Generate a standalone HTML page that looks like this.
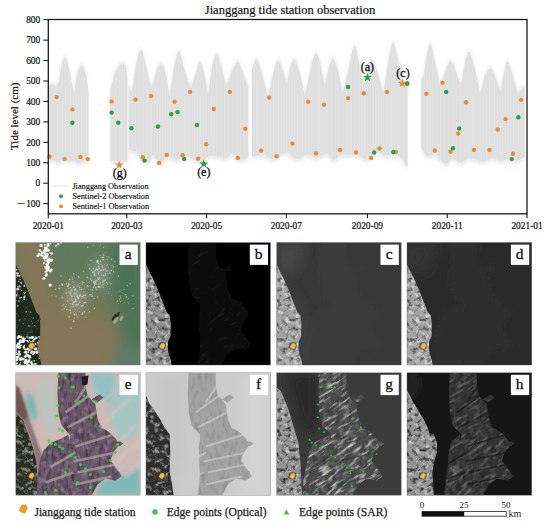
<!DOCTYPE html>
<html><head><meta charset="utf-8"><style>
html,body{margin:0;padding:0;background:#fff;width:550px;height:527px;overflow:hidden}
svg text{font-family:"Liberation Serif",serif}
</style></head><body>
<svg width="550" height="527" viewBox="0 0 550 527" style="display:block">
<defs>
<filter id="pb" x="0" y="0" width="100%" height="100%"><feGaussianBlur stdDeviation="0.45"/></filter><filter id="soft" x="-5%" y="-5%" width="110%" height="110%"><feGaussianBlur stdDeviation="0.6"/></filter><pattern id="stri" width="2.7" height="10" patternUnits="userSpaceOnUse"><rect x="0" y="0" width="0.9" height="10" fill="#e6e6e6" opacity="0.55"/></pattern><filter id="soft2" x="-5%" y="-5%" width="110%" height="110%"><feGaussianBlur stdDeviation="1.5"/></filter>

<filter id="b1" x="-20%" y="-20%" width="140%" height="140%"><feGaussianBlur stdDeviation="1"/></filter>
<filter id="b2" x="-20%" y="-20%" width="140%" height="140%"><feGaussianBlur stdDeviation="2.5"/></filter>
<filter id="b5" x="-30%" y="-30%" width="160%" height="160%"><feGaussianBlur stdDeviation="6"/></filter>
<filter id="b05" x="-20%" y="-20%" width="140%" height="140%"><feGaussianBlur stdDeviation="0.5"/></filter>

<clipPath id="cSand"><polygon points="43.0,-1.0 70.0,-1.0 70.0,12.0 72.0,23.0 80.0,32.0 82.0,46.0 86.0,56.0 90.0,60.0 80.0,63.0 66.0,64.0 64.0,72.0 66.0,85.0 62.0,100.0 64.0,112.0 66.0,123.5 52.0,123.5 54.0,105.0 55.0,90.0 53.0,75.0 55.0,63.0 46.0,53.0 43.0,40.0 42.0,20.0"/><polygon points="55.0,60.0 88.0,56.0 94.0,60.0 100.0,66.0 104.0,72.0 98.0,80.0 95.0,88.0 100.0,95.0 104.0,100.0 106.0,104.0 100.0,108.0 90.0,106.0 82.0,112.0 76.0,123.5 55.0,123.5 54.0,100.0 53.0,75.0"/><polygon points="76.0,27.0 84.0,22.0 88.0,25.0 82.0,30.0"/><polygon points="53.0,62.0 55.0,75.0 54.0,90.0 54.0,105.0 52.0,123.5 26.0,123.5 27.0,108.0 30.0,92.0 33.0,78.0 38.0,70.0 46.0,66.0"/></clipPath><clipPath id="cSandH"><polygon points="43.0,-1.0 70.0,-1.0 70.0,12.0 72.0,23.0 80.0,32.0 82.0,46.0 86.0,56.0 90.0,60.0 80.0,63.0 66.0,64.0 64.0,72.0 66.0,85.0 62.0,100.0 64.0,112.0 66.0,123.5 52.0,123.5 54.0,105.0 55.0,90.0 53.0,75.0 55.0,63.0 46.0,53.0 43.0,40.0 42.0,20.0"/><polygon points="55.0,60.0 88.0,56.0 94.0,60.0 100.0,66.0 104.0,72.0 98.0,80.0 95.0,88.0 100.0,95.0 104.0,100.0 106.0,104.0 100.0,108.0 90.0,106.0 82.0,112.0 76.0,123.5 55.0,123.5 54.0,100.0 53.0,75.0"/><polygon points="76.0,27.0 84.0,22.0 88.0,25.0 82.0,30.0"/><polygon points="53.0,62.0 55.0,75.0 54.0,90.0 54.0,105.0 52.0,123.5 37.0,123.5 39.0,108.0 41.0,92.0 42.0,80.0 44.0,70.0 48.0,66.0"/></clipPath><clipPath id="cLandG"><polygon points="0.0,15.0 4.3,18.4 11.4,34.9 18.4,58.4 22.0,70.2 24.3,93.7 25.5,123.5 0.0,123.5"/></clipPath><clipPath id="cSandE"><polygon points="43.0,-1.0 70.0,-1.0 70.0,12.0 72.0,23.0 80.0,32.0 82.0,46.0 86.0,56.0 90.0,60.0 80.0,63.0 66.0,64.0 64.0,72.0 66.0,85.0 62.0,100.0 64.0,112.0 66.0,123.5 52.0,123.5 54.0,105.0 55.0,90.0 53.0,75.0 55.0,63.0 46.0,53.0 43.0,40.0 42.0,20.0"/><polygon points="55.0,60.0 88.0,56.0 94.0,60.0 100.0,66.0 104.0,72.0 98.0,80.0 95.0,88.0 100.0,95.0 104.0,100.0 106.0,104.0 100.0,108.0 90.0,106.0 82.0,112.0 76.0,123.5 55.0,123.5 54.0,100.0 53.0,75.0"/><polygon points="76.0,27.0 84.0,22.0 88.0,25.0 82.0,30.0"/><polygon points="53.0,62.0 55.0,75.0 54.0,90.0 54.0,105.0 52.0,123.5 22.0,123.5 22.0,105.0 24.0,90.0 28.0,78.0 36.0,70.0 46.0,66.0"/></clipPath><clipPath id="cSandF"><polygon points="43.0,-1.0 70.0,-1.0 70.0,12.0 72.0,23.0 80.0,32.0 82.0,46.0 86.0,56.0 90.0,60.0 80.0,63.0 66.0,64.0 64.0,72.0 66.0,85.0 62.0,100.0 64.0,112.0 66.0,123.5 52.0,123.5 54.0,105.0 55.0,90.0 53.0,75.0 55.0,63.0 46.0,53.0 43.0,40.0 42.0,20.0"/><polygon points="55.0,60.0 88.0,56.0 94.0,60.0 100.0,66.0 104.0,72.0 98.0,80.0 95.0,88.0 100.0,95.0 104.0,100.0 106.0,104.0 100.0,108.0 90.0,106.0 82.0,112.0 76.0,123.5 55.0,123.5 54.0,100.0 53.0,75.0"/><polygon points="76.0,27.0 84.0,22.0 88.0,25.0 82.0,30.0"/></clipPath>
<clipPath id="cLandEF"><polygon points="0.0,40.0 4.0,44.0 8.0,48.0 12.7,61.0 17.4,75.0 21.0,89.0 22.0,105.0 22.0,123.5 0.0,123.5"/></clipPath>
<clipPath id="cLandF"><polygon points="0.0,22.0 3.0,30.0 8.7,38.0 14.6,47.0 17.0,52.0 21.0,58.0 24.0,62.0 24.5,80.0 24.0,100.0 26.0,110.0 28.0,123.5 0.0,123.5"/></clipPath>
<clipPath id="cLandB"><polygon points="0.0,17.0 6.0,29.0 12.0,39.0 16.8,47.0 20.4,54.0 22.7,61.0 27.0,62.0 30.0,70.0 30.3,79.0 27.0,90.0 25.5,100.0 26.0,110.0 27.0,123.5 0.0,123.5"/></clipPath>
<clipPath id="cLandT"><polygon points="0.0,22.0 3.0,28.0 7.0,36.0 12.0,47.0 17.0,60.0 21.0,70.0 24.0,73.0 24.8,80.0 24.8,94.0 22.4,99.0 22.0,106.0 23.0,112.0 25.0,118.0 26.0,123.5 0.0,123.0"/></clipPath>
<filter id="nz1" x="0" y="0" width="100%" height="100%"><feTurbulence type="fractalNoise" baseFrequency="0.18" numOctaves="2" seed="3"/><feColorMatrix type="matrix" values="0 0 0 0 1  0 0 0 0 1  0 0 0 0 1  2.2 0 0 0 -1.0"/></filter>
<filter id="nz2" x="0" y="0" width="100%" height="100%"><feTurbulence type="fractalNoise" baseFrequency="0.3 0.1" numOctaves="2" seed="7"/><feColorMatrix type="matrix" values="0 0 0 0 0  0 0 0 0 0  0 0 0 0 0  2.5 0 0 0 -1.2"/></filter>
<filter id="nzL" x="0" y="0" width="100%" height="100%"><feTurbulence type="fractalNoise" baseFrequency="0.22" numOctaves="3" seed="11"/><feColorMatrix type="matrix" values="0 0 0 0 1  0 0 0 0 1  0 0 0 0 1  3 0 0 0 -1.4"/></filter>
<filter id="nzD" x="0" y="0" width="100%" height="100%"><feTurbulence type="fractalNoise" baseFrequency="0.2" numOctaves="3" seed="5"/><feColorMatrix type="matrix" values="0 0 0 0 0  0 0 0 0 0  0 0 0 0 0  3 0 0 0 -1.5"/></filter>
<filter id="nzS" x="0" y="0" width="100%" height="100%"><feTurbulence type="fractalNoise" baseFrequency="0.08 0.35" numOctaves="2" seed="2"/><feColorMatrix type="matrix" values="0 0 0 0 1  0 0 0 0 1  0 0 0 0 1  3 0 0 0 -1.5"/></filter>

</defs>

<text x="290" y="13.8" font-size="12.5" text-anchor="middle" fill="#111" stroke="#111" stroke-width="0.2">Jianggang tide station observation</text>
<g fill="#ebebeb" filter="url(#soft2)"><path d="M48.6,83.0 Q48.6,83.0 48.6,83.0 L50.6,81.8 Q52.0,81.0 53.6,82.4 L55.8,84.3 Q56.0,84.5 56.2,84.2 L58.1,81.1 Q58.8,80.0 59.5,75.2 L61.0,65.8 Q61.7,61.0 62.5,58.9 L63.7,55.8 Q65.1,52.4 66.4,56.4 L67.5,60.0 Q68.3,62.5 69.2,67.2 L71.0,76.8 Q71.9,81.5 72.5,83.8 L74.0,90.2 Q74.1,90.8 74.3,89.5 L76.3,75.0 Q77.0,69.8 78.3,67.6 L80.1,64.6 Q82.1,61.1 83.9,65.7 L85.4,69.8 Q86.5,72.7 87.0,77.0 L88.5,90.0 Q88.5,90.0 88.5,90.0 L88.5,163.5 Q88.5,163.5 88.5,163.5 L86.3,163.3 Q85.7,163.2 84.3,163.9 L79.9,165.8 Q78.5,166.5 77.6,165.9 L74.9,164.1 Q74.0,163.5 73.1,163.7 L70.6,164.5 Q69.7,164.7 68.5,164.1 L65.1,162.4 Q63.9,161.8 62.7,162.7 L59.2,165.6 Q58.0,166.5 57.1,165.8 L54.6,163.9 Q53.7,163.2 52.7,163.3 L48.6,163.5 Q48.6,163.5 48.6,163.5Z"/>
<path d="M110.3,92.0 Q110.3,92.0 110.3,92.0 L110.5,87.3 Q110.5,85.8 111.6,81.8 L113.7,73.8 Q114.8,69.8 116.2,67.6 L118.3,64.6 Q120.6,61.1 122.6,61.3 L124.3,61.4 Q125.5,61.5 126.0,65.4 L127.3,77.0 Q127.3,77.0 127.3,77.0 L127.3,164.0 Q127.3,164.0 127.3,164.0 L119.9,164.4 Q118.0,164.5 116.5,164.4 L110.3,164.0 Q110.3,164.0 110.3,164.0Z"/>
<path d="M128.8,82.0 Q128.8,82.0 128.8,82.0 L131.4,90.3 Q131.6,90.8 131.9,89.0 L134.9,68.5 Q136.0,61.1 137.3,56.7 L139.1,50.6 Q141.1,43.6 142.9,50.6 L144.4,56.7 Q145.5,61.1 146.6,65.8 L148.7,75.3 Q149.8,80.0 150.4,81.2 L151.9,84.7 Q152.0,85.0 152.3,83.9 L155.3,71.4 Q156.4,66.9 157.7,65.1 L159.5,62.5 Q161.5,59.6 163.2,63.7 L164.7,67.2 Q165.8,69.8 166.7,75.8 L169.3,92.3 Q169.5,93.7 169.8,91.7 L173.2,69.2 Q174.5,61.1 175.6,56.9 L177.1,51.1 Q178.9,44.4 180.9,52.8 L182.7,60.2 Q184.0,65.5 185.1,69.1 L187.3,76.4 Q188.4,80.0 189.1,81.2 L191.1,84.7 Q191.3,85.0 191.6,84.2 L194.5,74.7 Q195.6,71.3 196.7,67.5 L198.3,62.1 Q200.1,56.0 201.9,62.7 L203.4,68.5 Q204.5,72.7 205.4,77.6 L207.9,91.0 Q208.1,92.2 208.4,90.3 L211.4,68.9 Q212.5,61.1 213.6,57.8 L215.1,53.2 Q216.8,48.0 218.8,55.0 L220.6,61.1 Q221.9,65.5 223.0,70.0 L226.0,82.4 Q226.3,83.5 226.6,82.7 L230.1,73.2 Q231.4,69.8 233.0,66.5 L235.3,61.9 Q237.9,56.7 239.9,61.9 L241.7,66.5 Q243.0,69.8 243.9,72.3 L245.7,77.5 Q246.6,80.0 247.0,80.8 L248.3,83.0 Q248.3,83.0 248.3,83.0 L248.3,161.5 Q248.3,161.5 248.3,161.5 L246.5,161.8 Q246.0,161.9 244.3,162.3 L239.2,163.6 Q237.5,164.0 236.6,162.3 L233.9,157.0 Q233.0,155.3 232.1,156.3 L229.6,159.5 Q228.7,160.5 228.0,160.8 L225.7,161.6 Q225.0,161.9 223.7,161.5 L219.8,160.1 Q218.5,159.7 216.7,159.5 L211.5,158.7 Q209.7,158.5 208.0,160.0 L202.7,164.7 Q201.0,166.2 199.3,165.3 L194.0,162.8 Q192.3,161.9 191.0,161.2 L187.0,159.2 Q185.7,158.5 184.0,159.6 L178.7,162.9 Q177.0,164.0 175.3,163.1 L170.0,160.6 Q168.3,159.7 166.5,161.3 L161.3,165.9 Q159.5,167.5 158.2,165.5 L154.3,159.5 Q153.0,157.5 152.1,159.2 L149.5,164.5 Q148.6,166.2 146.9,165.8 L141.7,164.4 Q140.0,164.0 139.5,162.3 L138.2,157.0 Q137.7,155.3 136.8,155.1 L133.9,154.4 Q133.0,154.2 132.2,154.1 L128.8,153.5 Q128.8,153.5 128.8,153.5Z"/>
<path d="M252.0,67.0 Q252.0,67.0 252.0,67.0 L254.5,59.1 Q256.1,53.8 257.9,58.5 L259.4,62.6 Q260.5,65.5 261.6,69.5 L263.7,77.5 Q264.8,81.5 265.5,84.5 L267.5,93.0 Q267.7,93.7 268.0,92.6 L271.0,80.1 Q272.1,75.6 273.6,70.1 L275.6,62.5 Q278.0,53.8 280.0,59.6 L281.8,64.8 Q283.1,68.4 284.0,71.8 L286.5,81.2 Q286.7,82.0 286.9,80.8 L289.5,67.4 Q290.4,62.5 291.5,60.5 L293.0,57.7 Q294.7,54.5 296.7,60.6 L298.5,66.0 Q299.8,69.8 301.1,75.8 L304.6,92.3 Q304.9,93.7 305.3,91.7 L309.9,69.2 Q311.5,61.1 312.8,57.4 L314.5,52.3 Q316.5,46.5 318.5,54.7 L320.3,61.8 Q321.6,66.9 322.3,71.1 L324.3,82.5 Q324.5,83.5 324.8,82.3 L327.8,68.9 Q328.9,64.0 330.0,61.5 L331.5,57.9 Q333.3,53.8 335.3,59.6 L337.1,64.8 Q338.4,68.4 339.5,74.0 L342.4,89.5 Q342.7,90.8 343.1,89.3 L347.2,71.9 Q348.7,65.6 350.1,58.7 L352.2,49.0 Q354.5,38.0 356.9,49.0 L358.9,58.7 Q360.4,65.6 361.3,70.1 L363.8,82.6 Q364.0,83.7 364.2,82.6 L367.0,69.7 Q368.0,65.0 369.0,62.2 L370.4,58.4 Q372.0,54.0 374.6,61.6 L376.9,68.2 Q378.5,72.9 379.8,77.3 L383.3,89.4 Q383.6,90.5 383.9,88.6 L386.9,66.4 Q388.0,58.4 389.3,52.8 L391.1,44.8 Q393.1,35.8 395.1,44.8 L396.9,52.8 Q398.2,58.4 399.3,62.8 L401.4,71.5 Q402.5,75.8 403.4,77.1 L405.1,79.7 Q406.0,81.0 406.4,81.5 L407.5,83.0 Q407.5,83.0 407.5,83.0 L407.5,169.5 Q407.5,169.5 407.5,169.5 L406.2,169.5 Q405.9,169.5 405.2,168.0 L403.3,163.4 Q402.6,161.9 400.9,161.0 L395.6,158.4 Q393.9,157.5 392.2,157.9 L386.9,159.3 Q385.2,159.7 383.5,158.8 L378.2,156.2 Q376.5,155.3 374.7,157.0 L369.5,162.3 Q367.7,164.0 365.5,162.7 L359.0,158.8 Q356.8,157.5 355.0,157.7 L349.8,158.3 Q348.0,158.5 346.7,158.3 L342.8,157.7 Q341.5,157.5 339.9,158.8 L335.1,162.7 Q333.5,164.0 332.2,162.5 L328.2,157.9 Q326.9,156.4 324.7,157.5 L318.2,160.8 Q316.0,161.9 314.3,161.0 L309.0,158.4 Q307.3,157.5 305.1,158.6 L298.6,161.9 Q296.4,163.0 294.6,161.5 L289.4,156.8 Q287.6,155.3 286.3,155.7 L282.4,157.1 Q281.1,157.5 279.4,158.6 L274.1,161.9 Q272.4,163.0 270.6,161.9 L265.4,158.6 Q263.6,157.5 261.9,157.9 L256.7,159.3 Q255.0,159.7 254.4,159.7 L252.0,159.7 Q252.0,159.7 252.0,159.7Z"/>
<path d="M421.2,77.0 Q421.2,77.0 421.2,77.0 L423.2,73.9 Q423.9,72.9 424.6,67.5 L426.1,56.6 Q426.8,51.1 427.7,47.8 L429.0,43.2 Q430.5,38.0 432.2,46.2 L433.7,53.3 Q434.8,58.4 436.1,64.7 L439.6,82.2 Q439.9,83.7 440.3,82.4 L445.4,68.0 Q447.2,62.7 448.3,61.2 L449.8,59.2 Q451.5,56.9 453.5,62.1 L455.3,66.7 Q456.6,70.0 457.7,73.4 L460.7,82.9 Q461.0,83.7 461.2,82.3 L463.7,65.8 Q464.6,59.8 465.7,56.2 L467.2,51.1 Q469.0,45.3 471.3,53.4 L473.4,60.5 Q474.8,65.6 476.1,71.8 L479.7,89.0 Q480.0,90.5 480.3,89.5 L483.5,77.8 Q484.6,73.5 486.1,70.8 L488.2,67.1 Q490.6,62.8 493.0,68.6 L495.0,73.8 Q496.5,77.4 497.5,80.3 L500.3,88.2 Q500.5,88.9 500.7,87.6 L503.5,72.3 Q504.5,66.8 505.3,64.0 L506.5,60.0 Q507.8,55.5 510.2,63.7 L512.3,70.9 Q513.8,76.1 515.0,80.0 L518.2,90.7 Q518.5,91.6 518.8,91.1 L521.2,87.0 Q523.0,84.0 523.7,84.4 L524.7,85.0 Q524.7,85.0 524.7,85.0 L524.7,160.8 Q524.7,160.8 524.7,160.8 L523.8,160.8 Q523.6,160.8 522.3,161.5 L518.6,163.8 Q517.3,164.5 515.8,163.9 L511.5,162.3 Q510.0,161.7 508.2,162.3 L502.7,163.9 Q500.9,164.5 499.1,163.8 L493.6,161.5 Q491.8,160.8 490.0,161.7 L484.5,164.6 Q482.7,165.5 480.2,164.6 L472.5,161.7 Q470.0,160.8 468.0,161.9 L462.0,165.4 Q460.0,166.5 458.4,165.4 L453.4,161.9 Q451.8,160.8 451.1,161.9 L449.2,165.4 Q448.5,166.5 447.7,166.7 L445.3,167.3 Q444.5,167.5 442.7,165.5 L437.2,159.5 Q435.4,157.5 433.6,157.9 L428.4,159.3 Q426.6,159.7 425.5,158.0 L421.2,151.0 Q421.2,151.0 421.2,151.0Z"/></g>
<g fill="#dedede" filter="url(#soft)"><path d="M48.6,86.0 Q48.6,86.0 48.6,86.0 L50.6,84.8 Q52.0,84.0 53.6,85.4 L55.8,87.3 Q56.0,87.5 56.2,87.2 L58.1,84.1 Q58.8,83.0 59.5,78.2 L61.0,68.8 Q61.7,64.0 62.5,61.9 L63.7,58.8 Q65.1,55.4 66.4,59.4 L67.5,63.0 Q68.3,65.5 69.2,70.2 L71.0,79.8 Q71.9,84.5 72.5,86.8 L74.0,93.2 Q74.1,93.8 74.3,92.5 L76.3,78.0 Q77.0,72.8 78.3,70.6 L80.1,67.6 Q82.1,64.1 83.9,68.7 L85.4,72.8 Q86.5,75.7 87.0,80.0 L88.5,93.0 Q88.5,93.0 88.5,93.0 L88.5,160.0 Q88.5,160.0 88.5,160.0 L86.3,159.8 Q85.7,159.7 84.3,160.4 L79.9,162.3 Q78.5,163.0 77.6,162.4 L74.9,160.6 Q74.0,160.0 73.1,160.2 L70.6,161.0 Q69.7,161.2 68.5,160.6 L65.1,158.9 Q63.9,158.3 62.7,159.2 L59.2,162.1 Q58.0,163.0 57.1,162.3 L54.6,160.4 Q53.7,159.7 52.7,159.8 L48.6,160.0 Q48.6,160.0 48.6,160.0Z"/>
<path d="M110.3,95.0 Q110.3,95.0 110.3,95.0 L110.5,90.3 Q110.5,88.8 111.6,84.8 L113.7,76.8 Q114.8,72.8 116.2,70.6 L118.3,67.6 Q120.6,64.1 122.6,64.3 L124.3,64.4 Q125.5,64.5 126.0,68.4 L127.3,80.0 Q127.3,80.0 127.3,80.0 L127.3,160.5 Q127.3,160.5 127.3,160.5 L119.9,160.9 Q118.0,161.0 116.5,160.9 L110.3,160.5 Q110.3,160.5 110.3,160.5Z"/>
<path d="M128.8,85.0 Q128.8,85.0 128.8,85.0 L131.4,93.3 Q131.6,93.8 131.9,92.0 L134.9,71.5 Q136.0,64.1 137.3,59.7 L139.1,53.6 Q141.1,46.6 142.9,53.6 L144.4,59.7 Q145.5,64.1 146.6,68.8 L148.7,78.3 Q149.8,83.0 150.4,84.2 L151.9,87.7 Q152.0,88.0 152.3,86.9 L155.3,74.4 Q156.4,69.9 157.7,68.1 L159.5,65.5 Q161.5,62.6 163.2,66.7 L164.7,70.2 Q165.8,72.8 166.7,78.8 L169.3,95.3 Q169.5,96.7 169.8,94.7 L173.2,72.2 Q174.5,64.1 175.6,59.9 L177.1,54.1 Q178.9,47.4 180.9,55.8 L182.7,63.2 Q184.0,68.5 185.1,72.1 L187.3,79.4 Q188.4,83.0 189.1,84.2 L191.1,87.7 Q191.3,88.0 191.6,87.2 L194.5,77.7 Q195.6,74.3 196.7,70.5 L198.3,65.1 Q200.1,59.0 201.9,65.7 L203.4,71.5 Q204.5,75.7 205.4,80.6 L207.9,94.0 Q208.1,95.2 208.4,93.3 L211.4,71.9 Q212.5,64.1 213.6,60.8 L215.1,56.2 Q216.8,51.0 218.8,58.0 L220.6,64.1 Q221.9,68.5 223.0,73.0 L226.0,85.4 Q226.3,86.5 226.6,85.7 L230.1,76.2 Q231.4,72.8 233.0,69.5 L235.3,64.9 Q237.9,59.7 239.9,64.9 L241.7,69.5 Q243.0,72.8 243.9,75.3 L245.7,80.5 Q246.6,83.0 247.0,83.8 L248.3,86.0 Q248.3,86.0 248.3,86.0 L248.3,158.0 Q248.3,158.0 248.3,158.0 L246.5,158.3 Q246.0,158.4 244.3,158.8 L239.2,160.1 Q237.5,160.5 236.6,158.8 L233.9,153.5 Q233.0,151.8 232.1,152.8 L229.6,156.0 Q228.7,157.0 228.0,157.3 L225.7,158.1 Q225.0,158.4 223.7,158.0 L219.8,156.6 Q218.5,156.2 216.7,156.0 L211.5,155.2 Q209.7,155.0 208.0,156.5 L202.7,161.2 Q201.0,162.7 199.3,161.8 L194.0,159.3 Q192.3,158.4 191.0,157.7 L187.0,155.7 Q185.7,155.0 184.0,156.1 L178.7,159.4 Q177.0,160.5 175.3,159.6 L170.0,157.1 Q168.3,156.2 166.5,157.8 L161.3,162.4 Q159.5,164.0 158.2,162.0 L154.3,156.0 Q153.0,154.0 152.1,155.7 L149.5,161.0 Q148.6,162.7 146.9,162.3 L141.7,160.9 Q140.0,160.5 139.5,158.8 L138.2,153.5 Q137.7,151.8 136.8,151.6 L133.9,150.9 Q133.0,150.7 132.2,150.6 L128.8,150.0 Q128.8,150.0 128.8,150.0Z"/>
<path d="M252.0,70.0 Q252.0,70.0 252.0,70.0 L254.5,62.1 Q256.1,56.8 257.9,61.5 L259.4,65.6 Q260.5,68.5 261.6,72.5 L263.7,80.5 Q264.8,84.5 265.5,87.5 L267.5,96.0 Q267.7,96.7 268.0,95.6 L271.0,83.1 Q272.1,78.6 273.6,73.1 L275.6,65.5 Q278.0,56.8 280.0,62.6 L281.8,67.8 Q283.1,71.4 284.0,74.8 L286.5,84.2 Q286.7,85.0 286.9,83.8 L289.5,70.4 Q290.4,65.5 291.5,63.5 L293.0,60.7 Q294.7,57.5 296.7,63.6 L298.5,69.0 Q299.8,72.8 301.1,78.8 L304.6,95.3 Q304.9,96.7 305.3,94.7 L309.9,72.2 Q311.5,64.1 312.8,60.4 L314.5,55.3 Q316.5,49.5 318.5,57.7 L320.3,64.8 Q321.6,69.9 322.3,74.1 L324.3,85.5 Q324.5,86.5 324.8,85.3 L327.8,71.9 Q328.9,67.0 330.0,64.5 L331.5,60.9 Q333.3,56.8 335.3,62.6 L337.1,67.8 Q338.4,71.4 339.5,77.0 L342.4,92.5 Q342.7,93.8 343.1,92.3 L347.2,74.9 Q348.7,68.6 350.1,61.7 L352.2,52.0 Q354.5,41.0 356.9,52.0 L358.9,61.7 Q360.4,68.6 361.3,73.1 L363.8,85.6 Q364.0,86.7 364.2,85.6 L367.0,72.7 Q368.0,68.0 369.0,65.2 L370.4,61.4 Q372.0,57.0 374.6,64.6 L376.9,71.2 Q378.5,75.9 379.8,80.3 L383.3,92.4 Q383.6,93.5 383.9,91.6 L386.9,69.4 Q388.0,61.4 389.3,55.8 L391.1,47.8 Q393.1,38.8 395.1,47.8 L396.9,55.8 Q398.2,61.4 399.3,65.8 L401.4,74.5 Q402.5,78.8 403.4,80.1 L405.1,82.7 Q406.0,84.0 406.4,84.5 L407.5,86.0 Q407.5,86.0 407.5,86.0 L407.5,166.0 Q407.5,166.0 407.5,166.0 L406.2,166.0 Q405.9,166.0 405.2,164.5 L403.3,159.9 Q402.6,158.4 400.9,157.5 L395.6,154.9 Q393.9,154.0 392.2,154.4 L386.9,155.8 Q385.2,156.2 383.5,155.3 L378.2,152.7 Q376.5,151.8 374.7,153.5 L369.5,158.8 Q367.7,160.5 365.5,159.2 L359.0,155.3 Q356.8,154.0 355.0,154.2 L349.8,154.8 Q348.0,155.0 346.7,154.8 L342.8,154.2 Q341.5,154.0 339.9,155.3 L335.1,159.2 Q333.5,160.5 332.2,159.0 L328.2,154.4 Q326.9,152.9 324.7,154.0 L318.2,157.3 Q316.0,158.4 314.3,157.5 L309.0,154.9 Q307.3,154.0 305.1,155.1 L298.6,158.4 Q296.4,159.5 294.6,158.0 L289.4,153.3 Q287.6,151.8 286.3,152.2 L282.4,153.6 Q281.1,154.0 279.4,155.1 L274.1,158.4 Q272.4,159.5 270.6,158.4 L265.4,155.1 Q263.6,154.0 261.9,154.4 L256.7,155.8 Q255.0,156.2 254.4,156.2 L252.0,156.2 Q252.0,156.2 252.0,156.2Z"/>
<path d="M421.2,80.0 Q421.2,80.0 421.2,80.0 L423.2,76.9 Q423.9,75.9 424.6,70.5 L426.1,59.6 Q426.8,54.1 427.7,50.8 L429.0,46.2 Q430.5,41.0 432.2,49.2 L433.7,56.3 Q434.8,61.4 436.1,67.7 L439.6,85.2 Q439.9,86.7 440.3,85.4 L445.4,71.0 Q447.2,65.7 448.3,64.2 L449.8,62.2 Q451.5,59.9 453.5,65.1 L455.3,69.7 Q456.6,73.0 457.7,76.4 L460.7,85.9 Q461.0,86.7 461.2,85.3 L463.7,68.8 Q464.6,62.8 465.7,59.2 L467.2,54.1 Q469.0,48.3 471.3,56.4 L473.4,63.5 Q474.8,68.6 476.1,74.8 L479.7,92.0 Q480.0,93.5 480.3,92.5 L483.5,80.8 Q484.6,76.5 486.1,73.8 L488.2,70.1 Q490.6,65.8 493.0,71.6 L495.0,76.8 Q496.5,80.4 497.5,83.3 L500.3,91.2 Q500.5,91.9 500.7,90.6 L503.5,75.3 Q504.5,69.8 505.3,67.0 L506.5,63.0 Q507.8,58.5 510.2,66.7 L512.3,73.9 Q513.8,79.1 515.0,83.0 L518.2,93.7 Q518.5,94.6 518.8,94.1 L521.2,90.0 Q523.0,87.0 523.7,87.4 L524.7,88.0 Q524.7,88.0 524.7,88.0 L524.7,157.3 Q524.7,157.3 524.7,157.3 L523.8,157.3 Q523.6,157.3 522.3,158.0 L518.6,160.3 Q517.3,161.0 515.8,160.4 L511.5,158.8 Q510.0,158.2 508.2,158.8 L502.7,160.4 Q500.9,161.0 499.1,160.3 L493.6,158.0 Q491.8,157.3 490.0,158.2 L484.5,161.1 Q482.7,162.0 480.2,161.1 L472.5,158.2 Q470.0,157.3 468.0,158.4 L462.0,161.9 Q460.0,163.0 458.4,161.9 L453.4,158.4 Q451.8,157.3 451.1,158.4 L449.2,161.9 Q448.5,163.0 447.7,163.2 L445.3,163.8 Q444.5,164.0 442.7,162.0 L437.2,156.0 Q435.4,154.0 433.6,154.4 L428.4,155.8 Q426.6,156.2 425.5,154.5 L421.2,147.5 Q421.2,147.5 421.2,147.5Z"/></g>
<g fill="url(#stri)" filter="url(#soft)"><path d="M48.6,86.0 Q48.6,86.0 48.6,86.0 L50.6,84.8 Q52.0,84.0 53.6,85.4 L55.8,87.3 Q56.0,87.5 56.2,87.2 L58.1,84.1 Q58.8,83.0 59.5,78.2 L61.0,68.8 Q61.7,64.0 62.5,61.9 L63.7,58.8 Q65.1,55.4 66.4,59.4 L67.5,63.0 Q68.3,65.5 69.2,70.2 L71.0,79.8 Q71.9,84.5 72.5,86.8 L74.0,93.2 Q74.1,93.8 74.3,92.5 L76.3,78.0 Q77.0,72.8 78.3,70.6 L80.1,67.6 Q82.1,64.1 83.9,68.7 L85.4,72.8 Q86.5,75.7 87.0,80.0 L88.5,93.0 Q88.5,93.0 88.5,93.0 L88.5,160.0 Q88.5,160.0 88.5,160.0 L86.3,159.8 Q85.7,159.7 84.3,160.4 L79.9,162.3 Q78.5,163.0 77.6,162.4 L74.9,160.6 Q74.0,160.0 73.1,160.2 L70.6,161.0 Q69.7,161.2 68.5,160.6 L65.1,158.9 Q63.9,158.3 62.7,159.2 L59.2,162.1 Q58.0,163.0 57.1,162.3 L54.6,160.4 Q53.7,159.7 52.7,159.8 L48.6,160.0 Q48.6,160.0 48.6,160.0Z"/>
<path d="M110.3,95.0 Q110.3,95.0 110.3,95.0 L110.5,90.3 Q110.5,88.8 111.6,84.8 L113.7,76.8 Q114.8,72.8 116.2,70.6 L118.3,67.6 Q120.6,64.1 122.6,64.3 L124.3,64.4 Q125.5,64.5 126.0,68.4 L127.3,80.0 Q127.3,80.0 127.3,80.0 L127.3,160.5 Q127.3,160.5 127.3,160.5 L119.9,160.9 Q118.0,161.0 116.5,160.9 L110.3,160.5 Q110.3,160.5 110.3,160.5Z"/>
<path d="M128.8,85.0 Q128.8,85.0 128.8,85.0 L131.4,93.3 Q131.6,93.8 131.9,92.0 L134.9,71.5 Q136.0,64.1 137.3,59.7 L139.1,53.6 Q141.1,46.6 142.9,53.6 L144.4,59.7 Q145.5,64.1 146.6,68.8 L148.7,78.3 Q149.8,83.0 150.4,84.2 L151.9,87.7 Q152.0,88.0 152.3,86.9 L155.3,74.4 Q156.4,69.9 157.7,68.1 L159.5,65.5 Q161.5,62.6 163.2,66.7 L164.7,70.2 Q165.8,72.8 166.7,78.8 L169.3,95.3 Q169.5,96.7 169.8,94.7 L173.2,72.2 Q174.5,64.1 175.6,59.9 L177.1,54.1 Q178.9,47.4 180.9,55.8 L182.7,63.2 Q184.0,68.5 185.1,72.1 L187.3,79.4 Q188.4,83.0 189.1,84.2 L191.1,87.7 Q191.3,88.0 191.6,87.2 L194.5,77.7 Q195.6,74.3 196.7,70.5 L198.3,65.1 Q200.1,59.0 201.9,65.7 L203.4,71.5 Q204.5,75.7 205.4,80.6 L207.9,94.0 Q208.1,95.2 208.4,93.3 L211.4,71.9 Q212.5,64.1 213.6,60.8 L215.1,56.2 Q216.8,51.0 218.8,58.0 L220.6,64.1 Q221.9,68.5 223.0,73.0 L226.0,85.4 Q226.3,86.5 226.6,85.7 L230.1,76.2 Q231.4,72.8 233.0,69.5 L235.3,64.9 Q237.9,59.7 239.9,64.9 L241.7,69.5 Q243.0,72.8 243.9,75.3 L245.7,80.5 Q246.6,83.0 247.0,83.8 L248.3,86.0 Q248.3,86.0 248.3,86.0 L248.3,158.0 Q248.3,158.0 248.3,158.0 L246.5,158.3 Q246.0,158.4 244.3,158.8 L239.2,160.1 Q237.5,160.5 236.6,158.8 L233.9,153.5 Q233.0,151.8 232.1,152.8 L229.6,156.0 Q228.7,157.0 228.0,157.3 L225.7,158.1 Q225.0,158.4 223.7,158.0 L219.8,156.6 Q218.5,156.2 216.7,156.0 L211.5,155.2 Q209.7,155.0 208.0,156.5 L202.7,161.2 Q201.0,162.7 199.3,161.8 L194.0,159.3 Q192.3,158.4 191.0,157.7 L187.0,155.7 Q185.7,155.0 184.0,156.1 L178.7,159.4 Q177.0,160.5 175.3,159.6 L170.0,157.1 Q168.3,156.2 166.5,157.8 L161.3,162.4 Q159.5,164.0 158.2,162.0 L154.3,156.0 Q153.0,154.0 152.1,155.7 L149.5,161.0 Q148.6,162.7 146.9,162.3 L141.7,160.9 Q140.0,160.5 139.5,158.8 L138.2,153.5 Q137.7,151.8 136.8,151.6 L133.9,150.9 Q133.0,150.7 132.2,150.6 L128.8,150.0 Q128.8,150.0 128.8,150.0Z"/>
<path d="M252.0,70.0 Q252.0,70.0 252.0,70.0 L254.5,62.1 Q256.1,56.8 257.9,61.5 L259.4,65.6 Q260.5,68.5 261.6,72.5 L263.7,80.5 Q264.8,84.5 265.5,87.5 L267.5,96.0 Q267.7,96.7 268.0,95.6 L271.0,83.1 Q272.1,78.6 273.6,73.1 L275.6,65.5 Q278.0,56.8 280.0,62.6 L281.8,67.8 Q283.1,71.4 284.0,74.8 L286.5,84.2 Q286.7,85.0 286.9,83.8 L289.5,70.4 Q290.4,65.5 291.5,63.5 L293.0,60.7 Q294.7,57.5 296.7,63.6 L298.5,69.0 Q299.8,72.8 301.1,78.8 L304.6,95.3 Q304.9,96.7 305.3,94.7 L309.9,72.2 Q311.5,64.1 312.8,60.4 L314.5,55.3 Q316.5,49.5 318.5,57.7 L320.3,64.8 Q321.6,69.9 322.3,74.1 L324.3,85.5 Q324.5,86.5 324.8,85.3 L327.8,71.9 Q328.9,67.0 330.0,64.5 L331.5,60.9 Q333.3,56.8 335.3,62.6 L337.1,67.8 Q338.4,71.4 339.5,77.0 L342.4,92.5 Q342.7,93.8 343.1,92.3 L347.2,74.9 Q348.7,68.6 350.1,61.7 L352.2,52.0 Q354.5,41.0 356.9,52.0 L358.9,61.7 Q360.4,68.6 361.3,73.1 L363.8,85.6 Q364.0,86.7 364.2,85.6 L367.0,72.7 Q368.0,68.0 369.0,65.2 L370.4,61.4 Q372.0,57.0 374.6,64.6 L376.9,71.2 Q378.5,75.9 379.8,80.3 L383.3,92.4 Q383.6,93.5 383.9,91.6 L386.9,69.4 Q388.0,61.4 389.3,55.8 L391.1,47.8 Q393.1,38.8 395.1,47.8 L396.9,55.8 Q398.2,61.4 399.3,65.8 L401.4,74.5 Q402.5,78.8 403.4,80.1 L405.1,82.7 Q406.0,84.0 406.4,84.5 L407.5,86.0 Q407.5,86.0 407.5,86.0 L407.5,166.0 Q407.5,166.0 407.5,166.0 L406.2,166.0 Q405.9,166.0 405.2,164.5 L403.3,159.9 Q402.6,158.4 400.9,157.5 L395.6,154.9 Q393.9,154.0 392.2,154.4 L386.9,155.8 Q385.2,156.2 383.5,155.3 L378.2,152.7 Q376.5,151.8 374.7,153.5 L369.5,158.8 Q367.7,160.5 365.5,159.2 L359.0,155.3 Q356.8,154.0 355.0,154.2 L349.8,154.8 Q348.0,155.0 346.7,154.8 L342.8,154.2 Q341.5,154.0 339.9,155.3 L335.1,159.2 Q333.5,160.5 332.2,159.0 L328.2,154.4 Q326.9,152.9 324.7,154.0 L318.2,157.3 Q316.0,158.4 314.3,157.5 L309.0,154.9 Q307.3,154.0 305.1,155.1 L298.6,158.4 Q296.4,159.5 294.6,158.0 L289.4,153.3 Q287.6,151.8 286.3,152.2 L282.4,153.6 Q281.1,154.0 279.4,155.1 L274.1,158.4 Q272.4,159.5 270.6,158.4 L265.4,155.1 Q263.6,154.0 261.9,154.4 L256.7,155.8 Q255.0,156.2 254.4,156.2 L252.0,156.2 Q252.0,156.2 252.0,156.2Z"/>
<path d="M421.2,80.0 Q421.2,80.0 421.2,80.0 L423.2,76.9 Q423.9,75.9 424.6,70.5 L426.1,59.6 Q426.8,54.1 427.7,50.8 L429.0,46.2 Q430.5,41.0 432.2,49.2 L433.7,56.3 Q434.8,61.4 436.1,67.7 L439.6,85.2 Q439.9,86.7 440.3,85.4 L445.4,71.0 Q447.2,65.7 448.3,64.2 L449.8,62.2 Q451.5,59.9 453.5,65.1 L455.3,69.7 Q456.6,73.0 457.7,76.4 L460.7,85.9 Q461.0,86.7 461.2,85.3 L463.7,68.8 Q464.6,62.8 465.7,59.2 L467.2,54.1 Q469.0,48.3 471.3,56.4 L473.4,63.5 Q474.8,68.6 476.1,74.8 L479.7,92.0 Q480.0,93.5 480.3,92.5 L483.5,80.8 Q484.6,76.5 486.1,73.8 L488.2,70.1 Q490.6,65.8 493.0,71.6 L495.0,76.8 Q496.5,80.4 497.5,83.3 L500.3,91.2 Q500.5,91.9 500.7,90.6 L503.5,75.3 Q504.5,69.8 505.3,67.0 L506.5,63.0 Q507.8,58.5 510.2,66.7 L512.3,73.9 Q513.8,79.1 515.0,83.0 L518.2,93.7 Q518.5,94.6 518.8,94.1 L521.2,90.0 Q523.0,87.0 523.7,87.4 L524.7,88.0 Q524.7,88.0 524.7,88.0 L524.7,157.3 Q524.7,157.3 524.7,157.3 L523.8,157.3 Q523.6,157.3 522.3,158.0 L518.6,160.3 Q517.3,161.0 515.8,160.4 L511.5,158.8 Q510.0,158.2 508.2,158.8 L502.7,160.4 Q500.9,161.0 499.1,160.3 L493.6,158.0 Q491.8,157.3 490.0,158.2 L484.5,161.1 Q482.7,162.0 480.2,161.1 L472.5,158.2 Q470.0,157.3 468.0,158.4 L462.0,161.9 Q460.0,163.0 458.4,161.9 L453.4,158.4 Q451.8,157.3 451.1,158.4 L449.2,161.9 Q448.5,163.0 447.7,163.2 L445.3,163.8 Q444.5,164.0 442.7,162.0 L437.2,156.0 Q435.4,154.0 433.6,154.4 L428.4,155.8 Q426.6,156.2 425.5,154.5 L421.2,147.5 Q421.2,147.5 421.2,147.5Z"/></g>
<g><circle cx="56.7" cy="97.1" r="2.2" fill="#ee8a33"/><circle cx="72.4" cy="109.4" r="2.2" fill="#ee8a33"/><circle cx="49.5" cy="156.5" r="2.2" fill="#ee8a33"/><circle cx="64.7" cy="159.1" r="2.2" fill="#ee8a33"/><circle cx="80.3" cy="156.9" r="2.2" fill="#ee8a33"/><circle cx="87.8" cy="159.1" r="2.2" fill="#ee8a33"/><circle cx="111.6" cy="101.4" r="2.2" fill="#ee8a33"/><circle cx="135.5" cy="99.8" r="2.2" fill="#ee8a33"/><circle cx="151.2" cy="96" r="2.2" fill="#ee8a33"/><circle cx="174.6" cy="101.7" r="2.2" fill="#ee8a33"/><circle cx="190.1" cy="91.9" r="2.2" fill="#ee8a33"/><circle cx="213.8" cy="109" r="2.2" fill="#ee8a33"/><circle cx="206.1" cy="144.2" r="2.2" fill="#ee8a33"/><circle cx="142.8" cy="157.2" r="2.2" fill="#ee8a33"/><circle cx="159.2" cy="162.9" r="2.2" fill="#ee8a33"/><circle cx="166.7" cy="154.9" r="2.2" fill="#ee8a33"/><circle cx="182.6" cy="155.2" r="2.2" fill="#ee8a33"/><circle cx="198.1" cy="158.6" r="2.2" fill="#ee8a33"/><circle cx="229.8" cy="91.9" r="2.2" fill="#ee8a33"/><circle cx="245.3" cy="128.8" r="2.2" fill="#ee8a33"/><circle cx="237.8" cy="157.9" r="2.2" fill="#ee8a33"/><circle cx="269.2" cy="97.6" r="2.2" fill="#ee8a33"/><circle cx="261.2" cy="150.6" r="2.2" fill="#ee8a33"/><circle cx="276.7" cy="156.3" r="2.2" fill="#ee8a33"/><circle cx="292.4" cy="143.6" r="2.2" fill="#ee8a33"/><circle cx="308.2" cy="101.8" r="2.2" fill="#ee8a33"/><circle cx="324" cy="104.8" r="2.2" fill="#ee8a33"/><circle cx="348.1" cy="98.1" r="2.2" fill="#ee8a33"/><circle cx="363.7" cy="93.2" r="2.2" fill="#ee8a33"/><circle cx="386.9" cy="92" r="2.2" fill="#ee8a33"/><circle cx="316" cy="153.2" r="2.2" fill="#ee8a33"/><circle cx="340" cy="150" r="2.2" fill="#ee8a33"/><circle cx="356" cy="152.5" r="2.2" fill="#ee8a33"/><circle cx="379.5" cy="148.5" r="2.2" fill="#ee8a33"/><circle cx="371.1" cy="157.9" r="2.2" fill="#ee8a33"/><circle cx="395.8" cy="152" r="2.2" fill="#ee8a33"/><circle cx="442.5" cy="82.8" r="2.2" fill="#ee8a33"/><circle cx="426.4" cy="93.7" r="2.2" fill="#ee8a33"/><circle cx="466" cy="102.3" r="2.2" fill="#ee8a33"/><circle cx="458.2" cy="133.5" r="2.2" fill="#ee8a33"/><circle cx="434.8" cy="150.5" r="2.2" fill="#ee8a33"/><circle cx="450.4" cy="151.7" r="2.2" fill="#ee8a33"/><circle cx="474" cy="150" r="2.2" fill="#ee8a33"/><circle cx="489.5" cy="150" r="2.2" fill="#ee8a33"/><circle cx="521.1" cy="99.9" r="2.2" fill="#ee8a33"/><circle cx="505.6" cy="119.1" r="2.2" fill="#ee8a33"/><circle cx="497.7" cy="129.5" r="2.2" fill="#ee8a33"/><circle cx="513" cy="153.7" r="2.2" fill="#ee8a33"/><circle cx="72.4" cy="122.7" r="2.2" fill="#25a24a"/><circle cx="111.6" cy="112.6" r="2.2" fill="#25a24a"/><circle cx="118.2" cy="122.7" r="2.2" fill="#25a24a"/><circle cx="131.4" cy="128.3" r="2.2" fill="#25a24a"/><circle cx="158" cy="126.5" r="2.2" fill="#25a24a"/><circle cx="171.2" cy="114.2" r="2.2" fill="#25a24a"/><circle cx="177.6" cy="112.1" r="2.2" fill="#25a24a"/><circle cx="197" cy="124.9" r="2.2" fill="#25a24a"/><circle cx="144.6" cy="160.6" r="2.2" fill="#25a24a"/><circle cx="184.2" cy="159" r="2.2" fill="#25a24a"/><circle cx="348.1" cy="87" r="2.2" fill="#25a24a"/><circle cx="374.1" cy="152.5" r="2.2" fill="#25a24a"/><circle cx="393.3" cy="152" r="2.2" fill="#25a24a"/><circle cx="407.2" cy="83.5" r="2.2" fill="#25a24a"/><circle cx="446.2" cy="92" r="2.2" fill="#25a24a"/><circle cx="459.2" cy="128.5" r="2.2" fill="#25a24a"/><circle cx="452.9" cy="148.3" r="2.2" fill="#25a24a"/><circle cx="518.4" cy="117.2" r="2.2" fill="#25a24a"/><circle cx="511.7" cy="159.1" r="2.2" fill="#25a24a"/><polygon points="367.40,72.90 368.54,75.94 371.77,76.08 369.24,78.10 370.10,81.22 367.40,79.43 364.70,81.22 365.56,78.10 363.03,76.08 366.26,75.94" fill="#25a24a"/><polygon points="402.30,78.80 403.44,81.84 406.67,81.98 404.14,84.00 405.00,87.12 402.30,85.33 399.60,87.12 400.46,84.00 397.93,81.98 401.16,81.84" fill="#ee8a33"/><polygon points="119.20,160.40 120.34,163.44 123.57,163.58 121.04,165.60 121.90,168.72 119.20,166.93 116.50,168.72 117.36,165.60 114.83,163.58 118.06,163.44" fill="#ee8a33"/><polygon points="203.80,159.20 204.94,162.24 208.17,162.38 205.64,164.40 206.50,167.52 203.80,165.73 201.10,167.52 201.96,164.40 199.43,162.38 202.66,162.24" fill="#25a24a"/><circle cx="407.2" cy="83.5" r="2.2" fill="#25a24a"/></g>
<g font-size="12" text-anchor="middle" fill="#111" stroke="#111" stroke-width="0.3">
<text x="367.4" y="71.3">(a)</text><text x="403" y="77">(c)</text><text x="119.7" y="177">(g)</text><text x="203.8" y="176">(e)</text>
</g>
<rect x="48.3" y="19.5" width="478.7" height="194.3" fill="none" stroke="#1a1a1a" stroke-width="1.3"/>
<g stroke="#1a1a1a" stroke-width="1.1"><line x1="43.3" y1="203.64" x2="48.3" y2="203.64"/><line x1="43.3" y1="183.20" x2="48.3" y2="183.20"/><line x1="43.3" y1="162.76" x2="48.3" y2="162.76"/><line x1="43.3" y1="142.32" x2="48.3" y2="142.32"/><line x1="43.3" y1="121.88" x2="48.3" y2="121.88"/><line x1="43.3" y1="101.44" x2="48.3" y2="101.44"/><line x1="43.3" y1="81.00" x2="48.3" y2="81.00"/><line x1="43.3" y1="60.56" x2="48.3" y2="60.56"/><line x1="43.3" y1="40.12" x2="48.3" y2="40.12"/><line x1="43.3" y1="19.68" x2="48.3" y2="19.68"/><line x1="48.30" y1="213.8" x2="48.30" y2="218.3"/><line x1="126.78" y1="213.8" x2="126.78" y2="218.3"/><line x1="206.56" y1="213.8" x2="206.56" y2="218.3"/><line x1="286.34" y1="213.8" x2="286.34" y2="218.3"/><line x1="367.43" y1="213.8" x2="367.43" y2="218.3"/><line x1="447.22" y1="213.8" x2="447.22" y2="218.3"/><line x1="527.00" y1="213.8" x2="527.00" y2="218.3"/></g>
<g font-size="9.4" fill="#111" stroke="#111" stroke-width="0.2"><text x="40.2" y="206.84" text-anchor="end">100</text><line x1="17.4" y1="203.54" x2="24.6" y2="203.54" stroke="#222" stroke-width="0.75"/><text x="40.2" y="186.40" text-anchor="end">0</text><text x="40.2" y="165.96" text-anchor="end">100</text><text x="40.2" y="145.52" text-anchor="end">200</text><text x="40.2" y="125.08" text-anchor="end">300</text><text x="40.2" y="104.64" text-anchor="end">400</text><text x="40.2" y="84.20" text-anchor="end">500</text><text x="40.2" y="63.76" text-anchor="end">600</text><text x="40.2" y="43.32" text-anchor="end">700</text><text x="40.2" y="22.88" text-anchor="end">800</text><text x="48.30" y="229.4" text-anchor="middle">2020-01</text><text x="126.78" y="229.4" text-anchor="middle">2020-03</text><text x="206.56" y="229.4" text-anchor="middle">2020-05</text><text x="286.34" y="229.4" text-anchor="middle">2020-07</text><text x="367.43" y="229.4" text-anchor="middle">2020-09</text><text x="447.22" y="229.4" text-anchor="middle">2020-11</text><text x="527.00" y="229.4" text-anchor="middle">2021-01</text></g>
<text transform="translate(17.8,116.3) rotate(-90)" font-size="11" text-anchor="middle" fill="#111" stroke="#111" stroke-width="0.2">Tide level (cm)</text>
<line x1="52" y1="185.8" x2="68" y2="185.8" stroke="#e6e6e6" stroke-width="1"/>
<circle cx="61" cy="196.2" r="2" fill="#25a24a"/><circle cx="61" cy="206.2" r="2" fill="#ee8a33"/>
<g font-size="8.3" fill="#111" stroke="#111" stroke-width="0.15"><text x="72.4" y="189.2">Jianggang Observation</text><text x="72.4" y="199.2">Sentinel-2 Observation</text><text x="72.4" y="209.2">Sentinel-1 Observation</text></g>

<svg x="15.4" y="242.2" width="125.1" height="123.1" viewBox="0 0 125 123" preserveAspectRatio="none" overflow="hidden"><g filter="url(#pb)"><rect width="125" height="123" fill="#72785a"/><g filter="url(#b5)"><polygon points="35.0,-8.0 100.0,-8.0 100.0,55.0 80.0,52.0 55.0,42.0 38.0,30.0" fill="#617a5e"/><polygon points="95.0,-8.0 133.0,-8.0 133.0,131.0 104.0,131.0 108.0,90.0 98.0,55.0" fill="#4e7357"/><polygon points="-2.0,-8.0 27.0,-8.0 27.0,30.0 35.0,55.0 60.0,68.0 82.0,74.0 102.0,92.0 98.0,131.0 22.0,131.0 12.0,50.0" fill="#847659"/><ellipse cx="118" cy="116" rx="22" ry="14" fill="#5c7e66"/></g><g filter="url(#b5)" opacity="0.3"><ellipse cx="60" cy="55" rx="10" ry="15" fill="#d8d6c8"/><ellipse cx="85" cy="32" rx="8" ry="15" fill="#d8d8d0"/></g><g filter="url(#b05)"><circle cx="34.9" cy="28.5" r="1.54" fill="#f6f6f2" opacity="0.95"/><circle cx="30.9" cy="25.7" r="1.19" fill="#f6f6f2" opacity="0.95"/><circle cx="27.9" cy="-0.4" r="0.80" fill="#f6f6f2" opacity="0.95"/><circle cx="36.6" cy="17.4" r="1.18" fill="#f6f6f2" opacity="0.95"/><circle cx="31.0" cy="13.4" r="1.19" fill="#f6f6f2" opacity="0.95"/><circle cx="30.6" cy="6.9" r="1.74" fill="#f6f6f2" opacity="0.95"/><circle cx="31.6" cy="12.6" r="0.73" fill="#f6f6f2" opacity="0.95"/><circle cx="24.1" cy="7.9" r="1.12" fill="#f6f6f2" opacity="0.95"/><circle cx="31.7" cy="24.2" r="0.73" fill="#f6f6f2" opacity="0.95"/><circle cx="31.6" cy="24.6" r="1.25" fill="#f6f6f2" opacity="0.95"/><circle cx="31.2" cy="21.2" r="0.94" fill="#f6f6f2" opacity="0.95"/><circle cx="28.6" cy="16.1" r="0.72" fill="#f6f6f2" opacity="0.95"/><circle cx="33.0" cy="3.1" r="1.41" fill="#f6f6f2" opacity="0.95"/><circle cx="34.7" cy="42.8" r="1.65" fill="#f6f6f2" opacity="0.95"/><circle cx="33.0" cy="20.2" r="1.49" fill="#f6f6f2" opacity="0.95"/><circle cx="29.3" cy="-8.8" r="1.16" fill="#f6f6f2" opacity="0.95"/><circle cx="33.2" cy="0.9" r="1.03" fill="#f6f6f2" opacity="0.95"/><circle cx="25.7" cy="3.2" r="1.63" fill="#f6f6f2" opacity="0.95"/><circle cx="27.0" cy="13.6" r="0.74" fill="#f6f6f2" opacity="0.95"/><circle cx="31.2" cy="31.9" r="1.16" fill="#f6f6f2" opacity="0.95"/><circle cx="32.8" cy="25.2" r="1.47" fill="#f6f6f2" opacity="0.95"/><circle cx="29.7" cy="5.4" r="1.18" fill="#f6f6f2" opacity="0.95"/><circle cx="25.8" cy="13.1" r="1.27" fill="#f6f6f2" opacity="0.95"/><circle cx="28.3" cy="21.2" r="0.73" fill="#f6f6f2" opacity="0.95"/><circle cx="35.5" cy="18.2" r="1.78" fill="#f6f6f2" opacity="0.95"/><circle cx="28.5" cy="8.5" r="0.89" fill="#f6f6f2" opacity="0.95"/><circle cx="22.5" cy="13.6" r="1.55" fill="#f6f6f2" opacity="0.95"/><circle cx="25.2" cy="9.1" r="0.96" fill="#f6f6f2" opacity="0.95"/><circle cx="23.6" cy="11.9" r="1.34" fill="#f6f6f2" opacity="0.95"/><circle cx="28.7" cy="16.0" r="1.30" fill="#f6f6f2" opacity="0.95"/><circle cx="31.3" cy="13.7" r="1.56" fill="#f6f6f2" opacity="0.95"/><circle cx="33.7" cy="-4.8" r="1.51" fill="#f6f6f2" opacity="0.95"/><circle cx="32.3" cy="2.7" r="1.32" fill="#f6f6f2" opacity="0.95"/><circle cx="30.1" cy="15.5" r="1.66" fill="#f6f6f2" opacity="0.95"/><circle cx="29.2" cy="11.2" r="1.26" fill="#f6f6f2" opacity="0.95"/><circle cx="28.2" cy="14.9" r="1.08" fill="#f6f6f2" opacity="0.95"/><circle cx="26.9" cy="10.7" r="1.37" fill="#f6f6f2" opacity="0.95"/><circle cx="30.3" cy="14.6" r="0.95" fill="#f6f6f2" opacity="0.95"/><circle cx="32.8" cy="25.9" r="1.65" fill="#f6f6f2" opacity="0.95"/><circle cx="32.6" cy="-3.0" r="1.60" fill="#f6f6f2" opacity="0.95"/><circle cx="30.8" cy="33.2" r="1.44" fill="#f6f6f2" opacity="0.95"/><circle cx="31.5" cy="14.9" r="0.72" fill="#f6f6f2" opacity="0.95"/><circle cx="31.1" cy="6.4" r="0.82" fill="#f6f6f2" opacity="0.95"/><circle cx="29.0" cy="7.5" r="0.78" fill="#f6f6f2" opacity="0.95"/><circle cx="33.0" cy="24.3" r="0.88" fill="#f6f6f2" opacity="0.95"/><circle cx="30.3" cy="29.6" r="1.20" fill="#f6f6f2" opacity="0.95"/><circle cx="29.5" cy="24.2" r="0.73" fill="#f6f6f2" opacity="0.95"/><circle cx="28.6" cy="20.8" r="0.91" fill="#f6f6f2" opacity="0.95"/><circle cx="36.0" cy="27.5" r="1.26" fill="#f6f6f2" opacity="0.95"/><circle cx="32.0" cy="27.2" r="1.60" fill="#f6f6f2" opacity="0.95"/><circle cx="31.6" cy="14.2" r="0.86" fill="#f6f6f2" opacity="0.95"/><circle cx="30.7" cy="8.2" r="1.48" fill="#f6f6f2" opacity="0.95"/><circle cx="29.4" cy="2.7" r="0.94" fill="#f6f6f2" opacity="0.95"/><circle cx="36.3" cy="11.3" r="1.27" fill="#f6f6f2" opacity="0.95"/><circle cx="31.7" cy="28.3" r="1.13" fill="#f6f6f2" opacity="0.95"/><circle cx="28.7" cy="10.0" r="1.39" fill="#f6f6f2" opacity="0.95"/><circle cx="33.4" cy="17.0" r="1.76" fill="#f6f6f2" opacity="0.95"/><circle cx="32.8" cy="8.0" r="1.64" fill="#f6f6f2" opacity="0.95"/><circle cx="28.4" cy="36.0" r="1.52" fill="#f6f6f2" opacity="0.95"/><circle cx="29.0" cy="17.8" r="0.71" fill="#f6f6f2" opacity="0.95"/><circle cx="31.6" cy="12.1" r="1.60" fill="#f6f6f2" opacity="0.95"/><circle cx="34.8" cy="10.9" r="0.89" fill="#f6f6f2" opacity="0.95"/><circle cx="36.5" cy="-5.9" r="1.47" fill="#f6f6f2" opacity="0.95"/><circle cx="28.1" cy="13.5" r="1.08" fill="#f6f6f2" opacity="0.95"/><circle cx="32.2" cy="28.4" r="1.18" fill="#f6f6f2" opacity="0.95"/><circle cx="31.5" cy="18.4" r="1.43" fill="#f6f6f2" opacity="0.95"/><circle cx="30.0" cy="25.3" r="1.06" fill="#f6f6f2" opacity="0.95"/><circle cx="35.5" cy="-1.5" r="0.72" fill="#f6f6f2" opacity="0.95"/><circle cx="31.8" cy="22.5" r="1.79" fill="#f6f6f2" opacity="0.95"/><circle cx="31.6" cy="5.1" r="0.93" fill="#f6f6f2" opacity="0.95"/><circle cx="41.4" cy="-1.5" r="1.35" fill="#eeeeea" opacity="0.80"/><circle cx="40.5" cy="3.6" r="1.15" fill="#eeeeea" opacity="0.80"/><circle cx="35.3" cy="1.4" r="0.79" fill="#eeeeea" opacity="0.80"/><circle cx="43.8" cy="0.4" r="0.74" fill="#eeeeea" opacity="0.80"/><circle cx="45.8" cy="0.4" r="1.21" fill="#eeeeea" opacity="0.80"/><circle cx="39.3" cy="-0.7" r="0.89" fill="#eeeeea" opacity="0.80"/><circle cx="42.7" cy="2.0" r="1.29" fill="#eeeeea" opacity="0.80"/><circle cx="38.1" cy="-1.3" r="1.31" fill="#eeeeea" opacity="0.80"/><circle cx="66.7" cy="65.5" r="0.41" fill="#e4e2d8" opacity="0.60"/><circle cx="63.0" cy="56.0" r="0.83" fill="#e4e2d8" opacity="0.60"/><circle cx="63.6" cy="34.9" r="0.54" fill="#e4e2d8" opacity="0.60"/><circle cx="49.5" cy="42.3" r="0.56" fill="#e4e2d8" opacity="0.60"/><circle cx="54.9" cy="51.6" r="0.39" fill="#e4e2d8" opacity="0.60"/><circle cx="58.2" cy="78.0" r="0.66" fill="#e4e2d8" opacity="0.60"/><circle cx="67.9" cy="49.5" r="0.50" fill="#e4e2d8" opacity="0.60"/><circle cx="63.5" cy="34.9" r="0.36" fill="#e4e2d8" opacity="0.60"/><circle cx="58.3" cy="50.8" r="0.41" fill="#e4e2d8" opacity="0.60"/><circle cx="61.7" cy="52.9" r="0.48" fill="#e4e2d8" opacity="0.60"/><circle cx="68.3" cy="54.1" r="0.41" fill="#e4e2d8" opacity="0.60"/><circle cx="63.0" cy="62.1" r="0.76" fill="#e4e2d8" opacity="0.60"/><circle cx="74.0" cy="69.6" r="0.56" fill="#e4e2d8" opacity="0.60"/><circle cx="77.2" cy="50.5" r="0.51" fill="#e4e2d8" opacity="0.60"/><circle cx="59.8" cy="67.5" r="0.41" fill="#e4e2d8" opacity="0.60"/><circle cx="58.7" cy="52.4" r="0.36" fill="#e4e2d8" opacity="0.60"/><circle cx="66.7" cy="54.0" r="0.68" fill="#e4e2d8" opacity="0.60"/><circle cx="53.4" cy="58.0" r="0.38" fill="#e4e2d8" opacity="0.60"/><circle cx="78.1" cy="39.9" r="0.88" fill="#e4e2d8" opacity="0.60"/><circle cx="64.3" cy="59.9" r="0.69" fill="#e4e2d8" opacity="0.60"/><circle cx="69.9" cy="53.3" r="0.73" fill="#e4e2d8" opacity="0.60"/><circle cx="56.7" cy="47.8" r="0.65" fill="#e4e2d8" opacity="0.60"/><circle cx="57.9" cy="62.7" r="0.39" fill="#e4e2d8" opacity="0.60"/><circle cx="55.6" cy="85.9" r="0.60" fill="#e4e2d8" opacity="0.60"/><circle cx="53.4" cy="42.1" r="0.87" fill="#e4e2d8" opacity="0.60"/><circle cx="54.7" cy="61.0" r="0.53" fill="#e4e2d8" opacity="0.60"/><circle cx="53.7" cy="74.5" r="0.84" fill="#e4e2d8" opacity="0.60"/><circle cx="57.6" cy="64.4" r="0.65" fill="#e4e2d8" opacity="0.60"/><circle cx="50.5" cy="47.9" r="0.48" fill="#e4e2d8" opacity="0.60"/><circle cx="65.9" cy="56.0" r="0.39" fill="#e4e2d8" opacity="0.60"/><circle cx="57.1" cy="53.7" r="0.39" fill="#e4e2d8" opacity="0.60"/><circle cx="55.6" cy="48.1" r="0.79" fill="#e4e2d8" opacity="0.60"/><circle cx="44.1" cy="55.9" r="0.43" fill="#e4e2d8" opacity="0.60"/><circle cx="45.8" cy="54.8" r="0.39" fill="#e4e2d8" opacity="0.60"/><circle cx="64.7" cy="52.9" r="0.78" fill="#e4e2d8" opacity="0.60"/><circle cx="74.8" cy="53.1" r="0.53" fill="#e4e2d8" opacity="0.60"/><circle cx="67.5" cy="63.2" r="0.86" fill="#e4e2d8" opacity="0.60"/><circle cx="55.4" cy="77.4" r="0.43" fill="#e4e2d8" opacity="0.60"/><circle cx="61.7" cy="53.5" r="0.52" fill="#e4e2d8" opacity="0.60"/><circle cx="71.8" cy="43.6" r="0.85" fill="#e4e2d8" opacity="0.60"/><circle cx="67.1" cy="39.7" r="0.73" fill="#e4e2d8" opacity="0.60"/><circle cx="63.7" cy="65.5" r="0.44" fill="#e4e2d8" opacity="0.60"/><circle cx="57.4" cy="39.1" r="0.49" fill="#e4e2d8" opacity="0.60"/><circle cx="78.9" cy="66.1" r="0.79" fill="#e4e2d8" opacity="0.60"/><circle cx="50.5" cy="50.8" r="0.82" fill="#e4e2d8" opacity="0.60"/><circle cx="52.3" cy="58.2" r="0.54" fill="#e4e2d8" opacity="0.60"/><circle cx="59.9" cy="57.4" r="0.71" fill="#e4e2d8" opacity="0.60"/><circle cx="51.0" cy="62.2" r="0.38" fill="#e4e2d8" opacity="0.60"/><circle cx="57.3" cy="59.7" r="0.42" fill="#e4e2d8" opacity="0.60"/><circle cx="59.1" cy="75.6" r="0.57" fill="#e4e2d8" opacity="0.60"/><circle cx="51.0" cy="63.8" r="0.48" fill="#e4e2d8" opacity="0.60"/><circle cx="69.8" cy="55.6" r="0.63" fill="#e4e2d8" opacity="0.60"/><circle cx="54.9" cy="45.5" r="0.73" fill="#e4e2d8" opacity="0.60"/><circle cx="59.3" cy="46.9" r="0.62" fill="#e4e2d8" opacity="0.60"/><circle cx="54.3" cy="56.0" r="0.58" fill="#e4e2d8" opacity="0.60"/><circle cx="43.8" cy="46.1" r="0.85" fill="#e4e2d8" opacity="0.60"/><circle cx="58.2" cy="70.7" r="0.38" fill="#e4e2d8" opacity="0.60"/><circle cx="68.6" cy="60.7" r="0.83" fill="#e4e2d8" opacity="0.60"/><circle cx="67.3" cy="70.8" r="0.84" fill="#e4e2d8" opacity="0.60"/><circle cx="55.3" cy="70.6" r="0.82" fill="#e4e2d8" opacity="0.60"/><circle cx="51.4" cy="67.3" r="0.76" fill="#e4e2d8" opacity="0.60"/><circle cx="46.9" cy="42.9" r="0.84" fill="#e4e2d8" opacity="0.60"/><circle cx="70.1" cy="51.4" r="0.45" fill="#e4e2d8" opacity="0.60"/><circle cx="60.0" cy="62.7" r="0.66" fill="#e4e2d8" opacity="0.60"/><circle cx="60.1" cy="51.4" r="0.72" fill="#e4e2d8" opacity="0.60"/><circle cx="58.5" cy="45.0" r="0.63" fill="#e4e2d8" opacity="0.60"/><circle cx="66.6" cy="70.3" r="0.37" fill="#e4e2d8" opacity="0.60"/><circle cx="74.4" cy="52.6" r="0.70" fill="#e4e2d8" opacity="0.60"/><circle cx="58.1" cy="79.2" r="0.88" fill="#e4e2d8" opacity="0.60"/><circle cx="68.9" cy="69.6" r="0.81" fill="#e4e2d8" opacity="0.60"/><circle cx="53.3" cy="40.6" r="0.59" fill="#e4e2d8" opacity="0.60"/><circle cx="78.9" cy="41.6" r="0.56" fill="#e4e2d8" opacity="0.60"/><circle cx="62.8" cy="43.9" r="0.44" fill="#e4e2d8" opacity="0.60"/><circle cx="58.1" cy="60.1" r="0.85" fill="#e4e2d8" opacity="0.60"/><circle cx="63.9" cy="53.6" r="0.68" fill="#e4e2d8" opacity="0.60"/><circle cx="56.6" cy="58.0" r="0.51" fill="#e4e2d8" opacity="0.60"/><circle cx="60.1" cy="73.3" r="0.35" fill="#e4e2d8" opacity="0.60"/><circle cx="63.2" cy="66.0" r="0.36" fill="#e4e2d8" opacity="0.60"/><circle cx="52.4" cy="44.2" r="0.81" fill="#e4e2d8" opacity="0.60"/><circle cx="61.8" cy="63.7" r="0.65" fill="#e4e2d8" opacity="0.60"/><circle cx="58.5" cy="69.4" r="0.49" fill="#e4e2d8" opacity="0.60"/><circle cx="54.3" cy="37.2" r="0.79" fill="#e4e2d8" opacity="0.60"/><circle cx="69.9" cy="52.7" r="0.62" fill="#e4e2d8" opacity="0.60"/><circle cx="68.4" cy="40.2" r="0.66" fill="#e4e2d8" opacity="0.60"/><circle cx="55.1" cy="61.0" r="0.41" fill="#e4e2d8" opacity="0.60"/><circle cx="61.4" cy="49.8" r="0.76" fill="#e4e2d8" opacity="0.60"/><circle cx="40.1" cy="47.0" r="0.77" fill="#e4e2d8" opacity="0.60"/><circle cx="64.3" cy="54.0" r="0.63" fill="#e4e2d8" opacity="0.60"/><circle cx="53.8" cy="50.8" r="0.63" fill="#e4e2d8" opacity="0.60"/><circle cx="53.9" cy="65.6" r="0.35" fill="#e4e2d8" opacity="0.60"/><circle cx="51.8" cy="59.3" r="0.52" fill="#e4e2d8" opacity="0.60"/><circle cx="48.7" cy="66.4" r="0.73" fill="#e4e2d8" opacity="0.60"/><circle cx="48.5" cy="55.8" r="0.56" fill="#e4e2d8" opacity="0.60"/><circle cx="60.2" cy="55.9" r="0.50" fill="#e4e2d8" opacity="0.60"/><circle cx="46.5" cy="41.9" r="0.81" fill="#e4e2d8" opacity="0.60"/><circle cx="36.5" cy="52.8" r="0.60" fill="#e4e2d8" opacity="0.60"/><circle cx="64.2" cy="45.3" r="0.76" fill="#e4e2d8" opacity="0.60"/><circle cx="66.8" cy="54.3" r="0.44" fill="#e4e2d8" opacity="0.60"/><circle cx="52.8" cy="45.7" r="0.55" fill="#e4e2d8" opacity="0.60"/><circle cx="67.9" cy="55.2" r="0.58" fill="#e4e2d8" opacity="0.60"/><circle cx="46.8" cy="67.3" r="0.67" fill="#e4e2d8" opacity="0.60"/><circle cx="58.3" cy="31.6" r="0.76" fill="#e4e2d8" opacity="0.60"/><circle cx="46.8" cy="55.8" r="0.70" fill="#e4e2d8" opacity="0.60"/><circle cx="53.3" cy="42.5" r="0.57" fill="#e4e2d8" opacity="0.60"/><circle cx="52.2" cy="43.7" r="0.87" fill="#e4e2d8" opacity="0.60"/><circle cx="63.1" cy="34.2" r="0.77" fill="#e4e2d8" opacity="0.60"/><circle cx="64.4" cy="41.2" r="0.54" fill="#e4e2d8" opacity="0.60"/><circle cx="58.9" cy="72.2" r="0.83" fill="#e4e2d8" opacity="0.60"/><circle cx="55.6" cy="53.3" r="0.81" fill="#e4e2d8" opacity="0.60"/><circle cx="51.1" cy="56.2" r="0.37" fill="#e4e2d8" opacity="0.60"/><circle cx="46.8" cy="53.8" r="0.58" fill="#e4e2d8" opacity="0.60"/><circle cx="52.8" cy="67.7" r="0.36" fill="#e4e2d8" opacity="0.60"/><circle cx="40.7" cy="53.8" r="0.73" fill="#e4e2d8" opacity="0.60"/><circle cx="50.0" cy="64.7" r="0.68" fill="#e4e2d8" opacity="0.60"/><circle cx="61.4" cy="62.3" r="0.84" fill="#e4e2d8" opacity="0.60"/><circle cx="59.6" cy="59.3" r="0.81" fill="#e4e2d8" opacity="0.60"/><circle cx="52.4" cy="53.5" r="0.63" fill="#e4e2d8" opacity="0.60"/><circle cx="59.6" cy="48.3" r="0.71" fill="#e4e2d8" opacity="0.60"/><circle cx="56.7" cy="35.3" r="0.50" fill="#e4e2d8" opacity="0.60"/><circle cx="55.5" cy="49.9" r="0.66" fill="#e4e2d8" opacity="0.60"/><circle cx="66.6" cy="72.2" r="0.83" fill="#e4e2d8" opacity="0.60"/><circle cx="57.3" cy="61.8" r="0.88" fill="#e4e2d8" opacity="0.60"/><circle cx="55.9" cy="34.6" r="0.37" fill="#e4e2d8" opacity="0.60"/><circle cx="69.0" cy="45.9" r="0.52" fill="#e4e2d8" opacity="0.60"/><circle cx="47.7" cy="62.7" r="0.78" fill="#e4e2d8" opacity="0.60"/><circle cx="64.1" cy="69.3" r="0.44" fill="#e4e2d8" opacity="0.60"/><circle cx="68.5" cy="53.0" r="0.85" fill="#e4e2d8" opacity="0.60"/><circle cx="58.5" cy="40.1" r="0.49" fill="#e4e2d8" opacity="0.60"/><circle cx="55.7" cy="54.0" r="0.43" fill="#e4e2d8" opacity="0.60"/><circle cx="58.4" cy="44.8" r="0.76" fill="#e4e2d8" opacity="0.60"/><circle cx="60.8" cy="72.5" r="0.75" fill="#e4e2d8" opacity="0.60"/><circle cx="58.7" cy="59.9" r="0.57" fill="#e4e2d8" opacity="0.60"/><circle cx="56.3" cy="55.2" r="0.45" fill="#e4e2d8" opacity="0.60"/><circle cx="70.1" cy="60.1" r="0.84" fill="#e4e2d8" opacity="0.60"/><circle cx="60.4" cy="57.9" r="0.74" fill="#e4e2d8" opacity="0.60"/><circle cx="68.2" cy="29.0" r="0.69" fill="#e4e2d8" opacity="0.60"/><circle cx="51.6" cy="72.5" r="0.41" fill="#e4e2d8" opacity="0.60"/><circle cx="58.7" cy="50.4" r="0.57" fill="#e4e2d8" opacity="0.60"/><circle cx="52.2" cy="55.3" r="0.44" fill="#e4e2d8" opacity="0.60"/><circle cx="61.7" cy="75.2" r="0.60" fill="#e4e2d8" opacity="0.60"/><circle cx="55.2" cy="51.3" r="0.74" fill="#e4e2d8" opacity="0.60"/><circle cx="54.8" cy="67.9" r="0.85" fill="#e4e2d8" opacity="0.60"/><circle cx="62.5" cy="54.9" r="0.79" fill="#e4e2d8" opacity="0.60"/><circle cx="64.4" cy="47.5" r="0.56" fill="#e4e2d8" opacity="0.60"/><circle cx="44.3" cy="43.1" r="0.57" fill="#e4e2d8" opacity="0.60"/><circle cx="69.8" cy="42.3" r="0.43" fill="#e4e2d8" opacity="0.60"/><circle cx="61.2" cy="54.0" r="0.43" fill="#e4e2d8" opacity="0.60"/><circle cx="58.6" cy="51.8" r="0.56" fill="#e4e2d8" opacity="0.60"/><circle cx="66.1" cy="63.9" r="0.81" fill="#e4e2d8" opacity="0.60"/><circle cx="61.8" cy="53.4" r="0.38" fill="#e4e2d8" opacity="0.60"/><circle cx="61.3" cy="52.3" r="0.50" fill="#e4e2d8" opacity="0.60"/><circle cx="62.6" cy="58.2" r="0.37" fill="#e4e2d8" opacity="0.60"/><circle cx="51.4" cy="41.2" r="0.73" fill="#e4e2d8" opacity="0.60"/><circle cx="66.7" cy="41.6" r="0.56" fill="#e4e2d8" opacity="0.60"/><circle cx="45.6" cy="33.7" r="0.70" fill="#e4e2d8" opacity="0.60"/><circle cx="60.1" cy="58.9" r="0.86" fill="#e4e2d8" opacity="0.60"/><circle cx="53.7" cy="49.5" r="0.68" fill="#e4e2d8" opacity="0.60"/><circle cx="51.0" cy="50.1" r="0.38" fill="#e4e2d8" opacity="0.60"/><circle cx="55.0" cy="64.0" r="0.46" fill="#e4e2d8" opacity="0.60"/><circle cx="66.1" cy="47.1" r="0.71" fill="#e4e2d8" opacity="0.60"/><circle cx="57.0" cy="37.3" r="0.75" fill="#e4e2d8" opacity="0.60"/><circle cx="60.1" cy="46.6" r="0.89" fill="#e4e2d8" opacity="0.60"/><circle cx="70.4" cy="75.0" r="0.82" fill="#e4e2d8" opacity="0.60"/><circle cx="61.6" cy="52.1" r="0.40" fill="#e4e2d8" opacity="0.60"/><circle cx="63.5" cy="43.6" r="0.55" fill="#e4e2d8" opacity="0.60"/><circle cx="62.3" cy="54.7" r="0.64" fill="#e4e2d8" opacity="0.60"/><circle cx="56.1" cy="57.0" r="0.57" fill="#e4e2d8" opacity="0.60"/><circle cx="55.6" cy="33.0" r="0.36" fill="#e4e2d8" opacity="0.60"/><circle cx="56.6" cy="54.3" r="0.79" fill="#e4e2d8" opacity="0.60"/><circle cx="61.8" cy="56.5" r="0.56" fill="#e4e2d8" opacity="0.60"/><circle cx="84.4" cy="22.5" r="0.42" fill="#e6e6de" opacity="0.60"/><circle cx="88.0" cy="12.8" r="0.82" fill="#e6e6de" opacity="0.60"/><circle cx="82.9" cy="42.9" r="0.48" fill="#e6e6de" opacity="0.60"/><circle cx="80.0" cy="28.5" r="0.54" fill="#e6e6de" opacity="0.60"/><circle cx="88.1" cy="5.1" r="0.67" fill="#e6e6de" opacity="0.60"/><circle cx="91.9" cy="41.8" r="0.60" fill="#e6e6de" opacity="0.60"/><circle cx="94.5" cy="30.7" r="0.81" fill="#e6e6de" opacity="0.60"/><circle cx="82.8" cy="19.0" r="0.84" fill="#e6e6de" opacity="0.60"/><circle cx="87.4" cy="24.0" r="0.44" fill="#e6e6de" opacity="0.60"/><circle cx="80.0" cy="41.7" r="0.40" fill="#e6e6de" opacity="0.60"/><circle cx="80.6" cy="43.9" r="0.37" fill="#e6e6de" opacity="0.60"/><circle cx="88.5" cy="17.3" r="0.52" fill="#e6e6de" opacity="0.60"/><circle cx="83.3" cy="41.8" r="0.53" fill="#e6e6de" opacity="0.60"/><circle cx="84.9" cy="19.0" r="0.64" fill="#e6e6de" opacity="0.60"/><circle cx="92.9" cy="51.6" r="0.53" fill="#e6e6de" opacity="0.60"/><circle cx="83.9" cy="35.7" r="0.89" fill="#e6e6de" opacity="0.60"/><circle cx="71.9" cy="35.1" r="0.86" fill="#e6e6de" opacity="0.60"/><circle cx="95.8" cy="28.2" r="0.86" fill="#e6e6de" opacity="0.60"/><circle cx="94.5" cy="22.7" r="0.42" fill="#e6e6de" opacity="0.60"/><circle cx="77.2" cy="29.9" r="0.90" fill="#e6e6de" opacity="0.60"/><circle cx="87.0" cy="15.2" r="0.76" fill="#e6e6de" opacity="0.60"/><circle cx="75.8" cy="52.1" r="0.70" fill="#e6e6de" opacity="0.60"/><circle cx="79.5" cy="39.1" r="0.89" fill="#e6e6de" opacity="0.60"/><circle cx="81.4" cy="30.7" r="0.43" fill="#e6e6de" opacity="0.60"/><circle cx="82.0" cy="18.9" r="0.85" fill="#e6e6de" opacity="0.60"/><circle cx="87.5" cy="42.4" r="0.75" fill="#e6e6de" opacity="0.60"/><circle cx="87.6" cy="33.6" r="0.65" fill="#e6e6de" opacity="0.60"/><circle cx="84.7" cy="37.2" r="0.49" fill="#e6e6de" opacity="0.60"/><circle cx="80.1" cy="22.1" r="0.39" fill="#e6e6de" opacity="0.60"/><circle cx="95.5" cy="41.5" r="0.70" fill="#e6e6de" opacity="0.60"/><circle cx="90.5" cy="51.4" r="0.36" fill="#e6e6de" opacity="0.60"/><circle cx="77.1" cy="47.7" r="0.74" fill="#e6e6de" opacity="0.60"/><circle cx="82.3" cy="54.7" r="0.68" fill="#e6e6de" opacity="0.60"/><circle cx="93.4" cy="14.6" r="0.58" fill="#e6e6de" opacity="0.60"/><circle cx="81.6" cy="19.7" r="0.87" fill="#e6e6de" opacity="0.60"/><circle cx="87.9" cy="15.1" r="0.80" fill="#e6e6de" opacity="0.60"/><circle cx="89.6" cy="31.9" r="0.46" fill="#e6e6de" opacity="0.60"/><circle cx="84.8" cy="13.1" r="0.63" fill="#e6e6de" opacity="0.60"/><circle cx="78.9" cy="32.9" r="0.84" fill="#e6e6de" opacity="0.60"/><circle cx="87.3" cy="18.0" r="0.37" fill="#e6e6de" opacity="0.60"/><circle cx="88.9" cy="22.2" r="0.45" fill="#e6e6de" opacity="0.60"/><circle cx="82.2" cy="48.1" r="0.35" fill="#e6e6de" opacity="0.60"/><circle cx="88.7" cy="38.4" r="0.84" fill="#e6e6de" opacity="0.60"/><circle cx="84.7" cy="2.8" r="0.65" fill="#e6e6de" opacity="0.60"/><circle cx="78.2" cy="25.9" r="0.64" fill="#e6e6de" opacity="0.60"/><circle cx="74.3" cy="26.7" r="0.87" fill="#e6e6de" opacity="0.60"/><circle cx="77.9" cy="40.5" r="0.52" fill="#e6e6de" opacity="0.60"/><circle cx="82.7" cy="44.4" r="0.67" fill="#e6e6de" opacity="0.60"/><circle cx="69.4" cy="22.7" r="0.44" fill="#e6e6de" opacity="0.60"/><circle cx="72.3" cy="5.1" r="0.75" fill="#e6e6de" opacity="0.60"/><circle cx="79.7" cy="27.8" r="0.57" fill="#e6e6de" opacity="0.60"/><circle cx="96.7" cy="22.9" r="0.72" fill="#e6e6de" opacity="0.60"/><circle cx="96.0" cy="17.1" r="0.82" fill="#e6e6de" opacity="0.60"/><circle cx="80.0" cy="40.2" r="0.79" fill="#e6e6de" opacity="0.60"/><circle cx="78.0" cy="45.1" r="0.61" fill="#e6e6de" opacity="0.60"/><circle cx="81.6" cy="42.4" r="0.41" fill="#e6e6de" opacity="0.60"/><circle cx="81.2" cy="41.0" r="0.36" fill="#e6e6de" opacity="0.60"/><circle cx="87.2" cy="39.5" r="0.82" fill="#e6e6de" opacity="0.60"/><circle cx="80.8" cy="27.2" r="0.90" fill="#e6e6de" opacity="0.60"/><circle cx="84.6" cy="45.2" r="0.76" fill="#e6e6de" opacity="0.60"/><circle cx="82.7" cy="21.1" r="0.78" fill="#e6e6de" opacity="0.60"/><circle cx="75.5" cy="33.6" r="0.62" fill="#e6e6de" opacity="0.60"/><circle cx="94.4" cy="28.9" r="0.40" fill="#e6e6de" opacity="0.60"/><circle cx="95.7" cy="52.8" r="0.48" fill="#e6e6de" opacity="0.60"/><circle cx="89.5" cy="33.4" r="0.61" fill="#e6e6de" opacity="0.60"/><circle cx="90.8" cy="28.7" r="0.75" fill="#e6e6de" opacity="0.60"/><circle cx="86.3" cy="27.9" r="0.69" fill="#e6e6de" opacity="0.60"/><circle cx="92.6" cy="31.6" r="0.64" fill="#e6e6de" opacity="0.60"/><circle cx="76.7" cy="53.8" r="0.88" fill="#e6e6de" opacity="0.60"/><circle cx="91.1" cy="40.4" r="0.58" fill="#e6e6de" opacity="0.60"/><circle cx="83.6" cy="27.1" r="0.50" fill="#e6e6de" opacity="0.60"/><circle cx="83.8" cy="44.4" r="0.79" fill="#e6e6de" opacity="0.60"/><circle cx="91.6" cy="16.9" r="0.72" fill="#e6e6de" opacity="0.60"/><circle cx="90.1" cy="37.7" r="0.72" fill="#e6e6de" opacity="0.60"/><circle cx="83.0" cy="44.6" r="0.85" fill="#e6e6de" opacity="0.60"/><circle cx="93.8" cy="46.4" r="0.41" fill="#e6e6de" opacity="0.60"/><circle cx="75.2" cy="47.6" r="0.46" fill="#e6e6de" opacity="0.60"/><circle cx="78.8" cy="30.5" r="0.84" fill="#e6e6de" opacity="0.60"/><circle cx="89.9" cy="31.5" r="0.62" fill="#e6e6de" opacity="0.60"/><circle cx="90.9" cy="23.5" r="0.47" fill="#e6e6de" opacity="0.60"/><circle cx="85.3" cy="22.0" r="0.62" fill="#e6e6de" opacity="0.60"/><circle cx="103.0" cy="33.8" r="0.71" fill="#e6e6de" opacity="0.60"/><circle cx="99.1" cy="19.0" r="0.50" fill="#e6e6de" opacity="0.60"/><circle cx="78.7" cy="29.0" r="0.77" fill="#e6e6de" opacity="0.60"/><circle cx="87.4" cy="25.4" r="0.50" fill="#e6e6de" opacity="0.60"/><circle cx="83.3" cy="21.1" r="0.42" fill="#e6e6de" opacity="0.60"/><circle cx="87.6" cy="45.3" r="0.68" fill="#e6e6de" opacity="0.60"/><circle cx="92.2" cy="28.6" r="0.68" fill="#e6e6de" opacity="0.60"/><circle cx="88.7" cy="41.1" r="0.50" fill="#e6e6de" opacity="0.60"/><circle cx="83.4" cy="23.8" r="0.47" fill="#e6e6de" opacity="0.60"/><circle cx="80.4" cy="41.2" r="0.54" fill="#e6e6de" opacity="0.60"/><circle cx="82.0" cy="27.7" r="0.83" fill="#e6e6de" opacity="0.60"/><circle cx="82.4" cy="19.2" r="0.38" fill="#e6e6de" opacity="0.60"/><circle cx="80.8" cy="47.0" r="0.70" fill="#e6e6de" opacity="0.60"/><circle cx="89.8" cy="10.6" r="0.52" fill="#e6e6de" opacity="0.60"/><circle cx="79.6" cy="32.4" r="0.42" fill="#e6e6de" opacity="0.60"/><circle cx="87.9" cy="38.5" r="0.40" fill="#e6e6de" opacity="0.60"/><circle cx="75.9" cy="27.9" r="0.66" fill="#e6e6de" opacity="0.60"/><circle cx="83.3" cy="24.8" r="0.46" fill="#e6e6de" opacity="0.60"/><circle cx="73.6" cy="22.6" r="0.58" fill="#e6e6de" opacity="0.60"/><circle cx="86.2" cy="32.1" r="0.52" fill="#e6e6de" opacity="0.60"/><circle cx="83.1" cy="28.9" r="0.47" fill="#e6e6de" opacity="0.60"/><circle cx="77.7" cy="3.1" r="0.54" fill="#e6e6de" opacity="0.60"/><circle cx="79.2" cy="24.1" r="0.36" fill="#e6e6de" opacity="0.60"/><circle cx="83.4" cy="37.3" r="0.49" fill="#e6e6de" opacity="0.60"/><circle cx="86.1" cy="15.5" r="0.37" fill="#e6e6de" opacity="0.60"/><circle cx="93.5" cy="40.3" r="0.41" fill="#e6e6de" opacity="0.60"/><circle cx="83.1" cy="40.0" r="0.38" fill="#e6e6de" opacity="0.60"/><circle cx="88.2" cy="33.2" r="0.57" fill="#e6e6de" opacity="0.60"/><circle cx="92.8" cy="25.7" r="0.48" fill="#e6e6de" opacity="0.60"/><circle cx="82.9" cy="24.0" r="0.63" fill="#e6e6de" opacity="0.60"/><circle cx="78.6" cy="56.1" r="0.54" fill="#e6e6de" opacity="0.60"/><circle cx="87.8" cy="17.1" r="0.81" fill="#e6e6de" opacity="0.60"/><circle cx="75.5" cy="18.2" r="0.57" fill="#e6e6de" opacity="0.60"/><circle cx="81.4" cy="18.2" r="0.64" fill="#e6e6de" opacity="0.60"/><circle cx="78.2" cy="26.6" r="0.57" fill="#e6e6de" opacity="0.60"/><circle cx="91.8" cy="22.7" r="0.65" fill="#e6e6de" opacity="0.60"/><circle cx="91.7" cy="36.4" r="0.45" fill="#e6e6de" opacity="0.60"/><circle cx="86.4" cy="43.5" r="0.65" fill="#e6e6de" opacity="0.60"/><circle cx="85.0" cy="40.7" r="0.64" fill="#e6e6de" opacity="0.60"/><circle cx="79.0" cy="33.9" r="0.41" fill="#e6e6de" opacity="0.60"/><circle cx="78.9" cy="43.4" r="0.65" fill="#e6e6de" opacity="0.60"/><circle cx="73.9" cy="26.1" r="0.75" fill="#e6e6de" opacity="0.60"/><circle cx="84.4" cy="29.5" r="0.52" fill="#e6e6de" opacity="0.60"/><circle cx="83.6" cy="26.2" r="0.85" fill="#e6e6de" opacity="0.60"/><circle cx="92.7" cy="49.6" r="0.47" fill="#e6e6de" opacity="0.60"/><circle cx="91.3" cy="14.1" r="0.53" fill="#e6e6de" opacity="0.60"/><circle cx="87.7" cy="27.8" r="0.82" fill="#e6e6de" opacity="0.60"/><circle cx="80.2" cy="40.0" r="0.41" fill="#e6e6de" opacity="0.60"/><circle cx="81.2" cy="26.8" r="0.72" fill="#e6e6de" opacity="0.60"/><circle cx="87.5" cy="17.7" r="0.35" fill="#e6e6de" opacity="0.60"/><circle cx="97.9" cy="24.7" r="0.70" fill="#e6e6de" opacity="0.60"/><circle cx="79.4" cy="41.7" r="0.84" fill="#e6e6de" opacity="0.60"/><circle cx="74.9" cy="36.8" r="0.68" fill="#e6e6de" opacity="0.60"/><circle cx="72.7" cy="44.0" r="0.57" fill="#e6e6de" opacity="0.60"/><circle cx="83.4" cy="29.8" r="0.61" fill="#e6e6de" opacity="0.60"/><circle cx="94.1" cy="36.0" r="0.35" fill="#e6e6de" opacity="0.60"/><circle cx="87.8" cy="33.4" r="0.43" fill="#e6e6de" opacity="0.60"/><circle cx="79.4" cy="31.5" r="0.50" fill="#e6e6de" opacity="0.60"/><circle cx="98.1" cy="29.5" r="0.71" fill="#e6e6de" opacity="0.60"/><circle cx="88.6" cy="12.7" r="0.48" fill="#e6e6de" opacity="0.60"/><circle cx="86.6" cy="24.4" r="0.66" fill="#e6e6de" opacity="0.60"/><circle cx="82.8" cy="37.0" r="0.78" fill="#e6e6de" opacity="0.60"/><circle cx="89.5" cy="27.2" r="0.83" fill="#e6e6de" opacity="0.60"/><circle cx="80.0" cy="45.2" r="0.90" fill="#e6e6de" opacity="0.60"/><circle cx="85.3" cy="28.3" r="0.59" fill="#e6e6de" opacity="0.60"/><circle cx="81.4" cy="38.4" r="0.80" fill="#e6e6de" opacity="0.60"/><circle cx="76.3" cy="38.2" r="0.70" fill="#e6e6de" opacity="0.60"/><circle cx="83.0" cy="31.6" r="0.72" fill="#e6e6de" opacity="0.60"/><circle cx="87.9" cy="27.7" r="0.70" fill="#e6e6de" opacity="0.60"/><circle cx="105.4" cy="55.4" r="0.67" fill="#d8d8d0" opacity="0.50"/><circle cx="111.0" cy="54.8" r="0.75" fill="#d8d8d0" opacity="0.50"/><circle cx="103.0" cy="61.3" r="0.43" fill="#d8d8d0" opacity="0.50"/><circle cx="109.5" cy="52.8" r="0.50" fill="#d8d8d0" opacity="0.50"/><circle cx="117.2" cy="53.6" r="0.70" fill="#d8d8d0" opacity="0.50"/><circle cx="104.5" cy="56.4" r="0.57" fill="#d8d8d0" opacity="0.50"/><circle cx="111.2" cy="47.1" r="0.44" fill="#d8d8d0" opacity="0.50"/><circle cx="104.2" cy="57.3" r="0.61" fill="#d8d8d0" opacity="0.50"/><circle cx="118.6" cy="50.8" r="0.42" fill="#d8d8d0" opacity="0.50"/><circle cx="108.3" cy="56.7" r="0.36" fill="#d8d8d0" opacity="0.50"/><circle cx="112.8" cy="56.4" r="0.69" fill="#d8d8d0" opacity="0.50"/><circle cx="105.6" cy="47.2" r="0.48" fill="#d8d8d0" opacity="0.50"/><circle cx="117.5" cy="66.1" r="0.72" fill="#d8d8d0" opacity="0.50"/><circle cx="110.9" cy="54.7" r="0.53" fill="#d8d8d0" opacity="0.50"/><circle cx="104.6" cy="48.9" r="0.76" fill="#d8d8d0" opacity="0.50"/><circle cx="105.2" cy="53.8" r="0.35" fill="#d8d8d0" opacity="0.50"/><circle cx="114.7" cy="41.6" r="0.76" fill="#d8d8d0" opacity="0.50"/><circle cx="107.6" cy="51.1" r="0.46" fill="#d8d8d0" opacity="0.50"/><circle cx="111.8" cy="43.4" r="0.78" fill="#d8d8d0" opacity="0.50"/><circle cx="113.0" cy="60.9" r="0.58" fill="#d8d8d0" opacity="0.50"/><circle cx="102.0" cy="58.9" r="0.77" fill="#d8d8d0" opacity="0.50"/><circle cx="108.8" cy="47.3" r="0.66" fill="#d8d8d0" opacity="0.50"/><circle cx="106.5" cy="49.9" r="0.46" fill="#d8d8d0" opacity="0.50"/><circle cx="110.5" cy="52.5" r="0.64" fill="#d8d8d0" opacity="0.50"/><circle cx="105.1" cy="59.2" r="0.64" fill="#d8d8d0" opacity="0.50"/><circle cx="96.3" cy="56.8" r="0.46" fill="#d8d8d0" opacity="0.50"/><circle cx="122.4" cy="56.0" r="0.49" fill="#d8d8d0" opacity="0.50"/><circle cx="109.1" cy="60.1" r="0.62" fill="#d8d8d0" opacity="0.50"/><circle cx="117.8" cy="54.3" r="0.49" fill="#d8d8d0" opacity="0.50"/><circle cx="104.7" cy="53.8" r="0.58" fill="#d8d8d0" opacity="0.50"/></g><g filter="url(#b05)"><ellipse cx="98.5" cy="75" rx="1.1" ry="4" transform="rotate(30 98.5 75)" fill="#2c2a22"/><ellipse cx="102" cy="73" rx="1.1" ry="4" transform="rotate(30 102 73)" fill="#2c2a22"/><ellipse cx="100.5" cy="78" rx="1.6" ry="4" transform="rotate(30 100.5 78)" fill="#b8b8a8" opacity="0.7"/><ellipse cx="106" cy="76" rx="1.3" ry="3" transform="rotate(30 106 76)" fill="#c8c8b8" opacity="0.6"/></g><polygon points="0.0,22.0 3.0,28.0 7.0,36.0 12.0,47.0 17.0,60.0 21.0,70.0 24.0,73.0 24.8,80.0 24.8,94.0 22.4,99.0 22.0,106.0 23.0,112.0 25.0,118.0 26.0,123.5 0.0,123.0" fill="#1f2c1c"/><g filter="url(#b05)"><circle cx="10.3" cy="60.1" r="0.56" fill="#3a4a30" opacity="0.80"/><circle cx="3.9" cy="78.4" r="1.08" fill="#3a4a30" opacity="0.80"/><circle cx="20.3" cy="84.1" r="0.98" fill="#3a4a30" opacity="0.80"/><circle cx="6.6" cy="56.0" r="0.62" fill="#3a4a30" opacity="0.80"/><circle cx="3.4" cy="46.0" r="0.56" fill="#3a4a30" opacity="0.80"/><circle cx="20.8" cy="75.4" r="0.56" fill="#3a4a30" opacity="0.80"/><circle cx="11.2" cy="109.8" r="0.86" fill="#3a4a30" opacity="0.80"/><circle cx="14.4" cy="60.3" r="0.56" fill="#3a4a30" opacity="0.80"/><circle cx="17.7" cy="80.9" r="0.50" fill="#3a4a30" opacity="0.80"/><circle cx="6.3" cy="59.3" r="0.63" fill="#3a4a30" opacity="0.80"/><circle cx="17.2" cy="121.6" r="0.69" fill="#3a4a30" opacity="0.80"/><circle cx="12.0" cy="49.9" r="1.05" fill="#3a4a30" opacity="0.80"/><circle cx="15.4" cy="83.4" r="1.00" fill="#3a4a30" opacity="0.80"/><circle cx="21.1" cy="118.5" r="0.90" fill="#3a4a30" opacity="0.80"/><circle cx="2.7" cy="108.0" r="0.91" fill="#3a4a30" opacity="0.80"/><circle cx="6.4" cy="41.4" r="0.81" fill="#3a4a30" opacity="0.80"/><circle cx="3.2" cy="113.3" r="0.97" fill="#3a4a30" opacity="0.80"/><circle cx="0.1" cy="32.5" r="0.56" fill="#3a4a30" opacity="0.80"/><circle cx="12.5" cy="83.2" r="0.61" fill="#3a4a30" opacity="0.80"/><circle cx="16.6" cy="89.2" r="1.14" fill="#3a4a30" opacity="0.80"/><circle cx="13.1" cy="108.1" r="1.17" fill="#3a4a30" opacity="0.80"/><circle cx="14.5" cy="66.8" r="0.44" fill="#3a4a30" opacity="0.80"/><circle cx="5.6" cy="104.8" r="0.83" fill="#3a4a30" opacity="0.80"/><circle cx="2.4" cy="89.8" r="0.43" fill="#3a4a30" opacity="0.80"/><circle cx="11.0" cy="65.5" r="1.17" fill="#3a4a30" opacity="0.80"/><circle cx="13.3" cy="73.7" r="0.56" fill="#3a4a30" opacity="0.80"/><circle cx="9.4" cy="110.4" r="1.19" fill="#3a4a30" opacity="0.80"/><circle cx="3.8" cy="113.4" r="0.63" fill="#3a4a30" opacity="0.80"/><circle cx="1.1" cy="71.6" r="1.19" fill="#3a4a30" opacity="0.80"/><circle cx="21.9" cy="86.5" r="0.72" fill="#3a4a30" opacity="0.80"/><circle cx="24.3" cy="76.9" r="1.13" fill="#3a4a30" opacity="0.80"/><circle cx="12.4" cy="64.0" r="0.87" fill="#3a4a30" opacity="0.80"/><circle cx="15.3" cy="107.6" r="0.62" fill="#3a4a30" opacity="0.80"/><circle cx="9.6" cy="76.7" r="0.91" fill="#3a4a30" opacity="0.80"/><circle cx="15.2" cy="69.9" r="0.91" fill="#3a4a30" opacity="0.80"/><circle cx="13.0" cy="103.5" r="0.40" fill="#3a4a30" opacity="0.80"/><circle cx="4.2" cy="53.5" r="0.57" fill="#3a4a30" opacity="0.80"/><circle cx="2.8" cy="52.7" r="0.81" fill="#3a4a30" opacity="0.80"/><circle cx="21.4" cy="122.6" r="1.08" fill="#3a4a30" opacity="0.80"/><circle cx="1.7" cy="85.0" r="1.06" fill="#3a4a30" opacity="0.80"/><circle cx="6.9" cy="119.8" r="0.84" fill="#3a4a30" opacity="0.80"/><circle cx="14.9" cy="83.7" r="0.46" fill="#3a4a30" opacity="0.80"/><circle cx="4.4" cy="116.4" r="0.61" fill="#3a4a30" opacity="0.80"/><circle cx="2.2" cy="49.1" r="0.98" fill="#3a4a30" opacity="0.80"/><circle cx="6.8" cy="41.7" r="0.62" fill="#3a4a30" opacity="0.80"/><circle cx="12.5" cy="96.0" r="0.64" fill="#3a4a30" opacity="0.80"/><circle cx="22.7" cy="120.5" r="1.06" fill="#3a4a30" opacity="0.80"/><circle cx="2.0" cy="52.5" r="1.14" fill="#3a4a30" opacity="0.80"/><circle cx="11.5" cy="57.5" r="1.00" fill="#3a4a30" opacity="0.80"/><circle cx="0.7" cy="52.5" r="1.00" fill="#3a4a30" opacity="0.80"/><circle cx="15.3" cy="88.4" r="1.10" fill="#3a4a30" opacity="0.80"/><circle cx="11.0" cy="120.2" r="0.56" fill="#3a4a30" opacity="0.80"/><circle cx="3.0" cy="33.4" r="0.87" fill="#3a4a30" opacity="0.80"/><circle cx="3.2" cy="47.5" r="0.56" fill="#3a4a30" opacity="0.80"/><circle cx="1.4" cy="119.1" r="0.67" fill="#3a4a30" opacity="0.80"/><circle cx="5.7" cy="116.1" r="0.41" fill="#3a4a30" opacity="0.80"/><circle cx="6.6" cy="76.9" r="0.41" fill="#3a4a30" opacity="0.80"/><circle cx="7.5" cy="70.5" r="0.70" fill="#3a4a30" opacity="0.80"/><circle cx="10.2" cy="87.3" r="0.56" fill="#3a4a30" opacity="0.80"/><circle cx="4.7" cy="90.5" r="0.64" fill="#3a4a30" opacity="0.80"/><circle cx="0.5" cy="30.8" r="0.90" fill="#3a4a30" opacity="0.80"/><circle cx="17.3" cy="118.1" r="0.75" fill="#3a4a30" opacity="0.80"/><circle cx="1.9" cy="63.3" r="0.96" fill="#3a4a30" opacity="0.80"/><circle cx="20.9" cy="118.1" r="1.07" fill="#3a4a30" opacity="0.80"/><circle cx="14.7" cy="76.7" r="0.80" fill="#3a4a30" opacity="0.80"/><circle cx="12.4" cy="90.1" r="0.86" fill="#3a4a30" opacity="0.80"/><circle cx="12.3" cy="105.7" r="0.94" fill="#3a4a30" opacity="0.80"/><circle cx="13.6" cy="78.0" r="1.04" fill="#3a4a30" opacity="0.80"/><circle cx="8.1" cy="82.3" r="0.44" fill="#3a4a30" opacity="0.80"/><circle cx="11.9" cy="111.9" r="0.59" fill="#3a4a30" opacity="0.80"/><circle cx="11.5" cy="92.0" r="1.14" fill="#3a4a30" opacity="0.80"/><circle cx="18.1" cy="84.5" r="0.71" fill="#3a4a30" opacity="0.80"/><circle cx="11.4" cy="86.1" r="0.69" fill="#3a4a30" opacity="0.80"/><circle cx="19.5" cy="96.4" r="0.65" fill="#3a4a30" opacity="0.80"/><circle cx="0.4" cy="54.8" r="0.87" fill="#3a4a30" opacity="0.80"/><circle cx="20.5" cy="109.6" r="0.57" fill="#3a4a30" opacity="0.80"/><circle cx="2.1" cy="32.3" r="1.19" fill="#3a4a30" opacity="0.80"/><circle cx="18.0" cy="118.8" r="0.89" fill="#3a4a30" opacity="0.80"/><circle cx="6.0" cy="119.1" r="0.96" fill="#3a4a30" opacity="0.80"/><circle cx="4.8" cy="98.9" r="0.80" fill="#3a4a30" opacity="0.80"/><circle cx="14.9" cy="57.7" r="0.64" fill="#3a4a30" opacity="0.80"/><circle cx="10.9" cy="74.2" r="0.77" fill="#3a4a30" opacity="0.80"/><circle cx="5.2" cy="116.6" r="0.89" fill="#3a4a30" opacity="0.80"/><circle cx="16.1" cy="84.9" r="0.59" fill="#3a4a30" opacity="0.80"/><circle cx="4.0" cy="121.9" r="1.00" fill="#3a4a30" opacity="0.80"/><circle cx="12.9" cy="89.6" r="0.42" fill="#3a4a30" opacity="0.80"/><circle cx="9.6" cy="77.1" r="1.10" fill="#3a4a30" opacity="0.80"/><circle cx="13.3" cy="52.7" r="0.88" fill="#3a4a30" opacity="0.80"/><circle cx="0.3" cy="52.0" r="0.47" fill="#3a4a30" opacity="0.80"/><circle cx="12.8" cy="71.6" r="1.10" fill="#3a4a30" opacity="0.80"/><circle cx="19.4" cy="97.2" r="1.19" fill="#3a4a30" opacity="0.80"/><circle cx="6.9" cy="58.4" r="0.58" fill="#3a4a30" opacity="0.80"/><circle cx="2.7" cy="73.1" r="0.81" fill="#3a4a30" opacity="0.80"/><circle cx="3.4" cy="115.0" r="1.18" fill="#3a4a30" opacity="0.80"/><circle cx="1.6" cy="95.4" r="1.08" fill="#3a4a30" opacity="0.80"/><circle cx="14.0" cy="54.3" r="0.41" fill="#3a4a30" opacity="0.80"/><circle cx="0.2" cy="41.8" r="0.56" fill="#3a4a30" opacity="0.80"/><circle cx="7.7" cy="76.7" r="0.60" fill="#3a4a30" opacity="0.80"/><circle cx="6.1" cy="41.7" r="1.11" fill="#3a4a30" opacity="0.80"/><circle cx="2.4" cy="44.4" r="0.76" fill="#d8dad4" opacity="0.85"/><circle cx="3.3" cy="39.2" r="0.41" fill="#d8dad4" opacity="0.85"/><circle cx="1.9" cy="47.4" r="1.01" fill="#d8dad4" opacity="0.85"/><circle cx="2.2" cy="31.2" r="1.12" fill="#d8dad4" opacity="0.85"/><circle cx="1.0" cy="52.8" r="1.10" fill="#d8dad4" opacity="0.85"/><circle cx="1.5" cy="54.2" r="0.52" fill="#d8dad4" opacity="0.85"/><circle cx="0.4" cy="35.0" r="0.68" fill="#d8dad4" opacity="0.85"/><circle cx="5.9" cy="40.5" r="1.03" fill="#d8dad4" opacity="0.85"/><circle cx="2.0" cy="51.1" r="0.49" fill="#d8dad4" opacity="0.85"/><circle cx="9.5" cy="53.4" r="0.58" fill="#d8dad4" opacity="0.85"/><circle cx="2.9" cy="33.8" r="0.74" fill="#d8dad4" opacity="0.85"/><circle cx="2.5" cy="31.8" r="0.68" fill="#d8dad4" opacity="0.85"/><circle cx="4.5" cy="55.6" r="0.93" fill="#d8dad4" opacity="0.85"/><circle cx="6.2" cy="55.3" r="0.71" fill="#d8dad4" opacity="0.85"/><circle cx="4.3" cy="33.6" r="1.06" fill="#d8dad4" opacity="0.85"/><circle cx="8.8" cy="56.9" r="0.88" fill="#d8dad4" opacity="0.85"/><circle cx="1.1" cy="27.5" r="1.04" fill="#d8dad4" opacity="0.85"/><circle cx="8.9" cy="43.6" r="1.14" fill="#d8dad4" opacity="0.85"/><circle cx="9.3" cy="51.4" r="0.70" fill="#d8dad4" opacity="0.85"/><circle cx="4.6" cy="37.3" r="0.72" fill="#d8dad4" opacity="0.85"/><circle cx="1.3" cy="30.9" r="0.85" fill="#d8dad4" opacity="0.85"/><circle cx="8.7" cy="49.9" r="0.52" fill="#d8dad4" opacity="0.85"/><circle cx="4.6" cy="47.0" r="0.51" fill="#d8dad4" opacity="0.85"/><circle cx="0.8" cy="46.4" r="0.59" fill="#d8dad4" opacity="0.85"/><circle cx="4.3" cy="44.2" r="1.11" fill="#d8dad4" opacity="0.85"/><circle cx="9.2" cy="54.6" r="0.95" fill="#d8dad4" opacity="0.85"/><circle cx="0.7" cy="31.5" r="0.83" fill="#d8dad4" opacity="0.85"/><circle cx="9.9" cy="50.4" r="0.55" fill="#d8dad4" opacity="0.85"/><circle cx="3.6" cy="58.7" r="0.81" fill="#d8dad4" opacity="0.85"/><circle cx="8.7" cy="55.0" r="1.03" fill="#d8dad4" opacity="0.85"/><circle cx="6.3" cy="48.3" r="0.67" fill="#d8dad4" opacity="0.85"/><circle cx="1.2" cy="58.2" r="0.43" fill="#d8dad4" opacity="0.85"/><circle cx="2.7" cy="46.5" r="1.17" fill="#d8dad4" opacity="0.85"/><circle cx="2.1" cy="33.6" r="1.08" fill="#d8dad4" opacity="0.85"/><circle cx="3.3" cy="39.1" r="0.69" fill="#d8dad4" opacity="0.85"/><circle cx="1.2" cy="121.3" r="1.27" fill="#f4f4f4" opacity="0.95"/><circle cx="0.2" cy="96.8" r="0.65" fill="#f4f4f4" opacity="0.95"/><circle cx="8.9" cy="119.8" r="0.65" fill="#f4f4f4" opacity="0.95"/><circle cx="5.5" cy="103.0" r="1.06" fill="#f4f4f4" opacity="0.95"/><circle cx="21.6" cy="109.6" r="1.49" fill="#f4f4f4" opacity="0.95"/><circle cx="13.0" cy="106.5" r="1.46" fill="#f4f4f4" opacity="0.95"/><circle cx="13.9" cy="107.8" r="1.06" fill="#f4f4f4" opacity="0.95"/><circle cx="8.5" cy="106.6" r="0.58" fill="#f4f4f4" opacity="0.95"/><circle cx="4.9" cy="116.1" r="0.65" fill="#f4f4f4" opacity="0.95"/><circle cx="5.0" cy="98.7" r="0.90" fill="#f4f4f4" opacity="0.95"/><circle cx="1.2" cy="104.4" r="1.17" fill="#f4f4f4" opacity="0.95"/><circle cx="16.3" cy="119.2" r="0.60" fill="#f4f4f4" opacity="0.95"/><circle cx="15.5" cy="99.7" r="0.88" fill="#f4f4f4" opacity="0.95"/><circle cx="13.8" cy="118.3" r="1.24" fill="#f4f4f4" opacity="0.95"/><circle cx="23.6" cy="94.5" r="0.85" fill="#f4f4f4" opacity="0.95"/><circle cx="11.5" cy="95.0" r="0.56" fill="#f4f4f4" opacity="0.95"/><circle cx="8.8" cy="110.2" r="0.65" fill="#f4f4f4" opacity="0.95"/><circle cx="1.6" cy="103.2" r="1.32" fill="#f4f4f4" opacity="0.95"/><circle cx="13.6" cy="122.9" r="1.17" fill="#f4f4f4" opacity="0.95"/><circle cx="21.4" cy="110.6" r="1.03" fill="#f4f4f4" opacity="0.95"/><circle cx="10.0" cy="96.1" r="0.57" fill="#f4f4f4" opacity="0.95"/><circle cx="15.8" cy="118.9" r="0.52" fill="#f4f4f4" opacity="0.95"/><circle cx="4.3" cy="103.5" r="0.84" fill="#f4f4f4" opacity="0.95"/><circle cx="20.0" cy="101.3" r="0.84" fill="#f4f4f4" opacity="0.95"/><circle cx="11.7" cy="121.6" r="0.82" fill="#f4f4f4" opacity="0.95"/><circle cx="15.2" cy="95.4" r="0.97" fill="#f4f4f4" opacity="0.95"/><circle cx="22.3" cy="100.3" r="0.89" fill="#f4f4f4" opacity="0.95"/><circle cx="15.7" cy="110.4" r="1.13" fill="#f4f4f4" opacity="0.95"/><circle cx="14.6" cy="113.6" r="0.85" fill="#f4f4f4" opacity="0.95"/><circle cx="8.4" cy="105.5" r="1.07" fill="#f4f4f4" opacity="0.95"/><circle cx="13.6" cy="119.3" r="0.94" fill="#f4f4f4" opacity="0.95"/><circle cx="10.8" cy="118.1" r="1.57" fill="#f4f4f4" opacity="0.95"/><circle cx="5.8" cy="115.2" r="0.77" fill="#f4f4f4" opacity="0.95"/><circle cx="17.8" cy="95.1" r="1.06" fill="#f4f4f4" opacity="0.95"/><circle cx="13.7" cy="114.3" r="1.51" fill="#f4f4f4" opacity="0.95"/><circle cx="19.1" cy="110.3" r="1.05" fill="#f4f4f4" opacity="0.95"/><circle cx="0.3" cy="110.0" r="1.12" fill="#f4f4f4" opacity="0.95"/><circle cx="17.8" cy="98.8" r="1.15" fill="#f4f4f4" opacity="0.95"/><circle cx="1.2" cy="115.1" r="1.40" fill="#f4f4f4" opacity="0.95"/><circle cx="10.5" cy="113.9" r="1.23" fill="#f4f4f4" opacity="0.95"/><circle cx="7.3" cy="96.6" r="1.33" fill="#f4f4f4" opacity="0.95"/><circle cx="8.6" cy="98.7" r="0.99" fill="#f4f4f4" opacity="0.95"/><circle cx="20.0" cy="121.7" r="1.12" fill="#f4f4f4" opacity="0.95"/><circle cx="11.8" cy="94.2" r="0.76" fill="#f4f4f4" opacity="0.95"/><circle cx="21.0" cy="95.7" r="1.22" fill="#f4f4f4" opacity="0.95"/><circle cx="12.2" cy="122.6" r="1.59" fill="#f4f4f4" opacity="0.95"/><circle cx="3.0" cy="101.6" r="1.59" fill="#f4f4f4" opacity="0.95"/><circle cx="7.9" cy="99.2" r="1.50" fill="#f4f4f4" opacity="0.95"/><circle cx="14.8" cy="102.9" r="1.11" fill="#f4f4f4" opacity="0.95"/><circle cx="10.3" cy="107.3" r="1.11" fill="#f4f4f4" opacity="0.95"/><circle cx="4.1" cy="111.9" r="1.55" fill="#f4f4f4" opacity="0.95"/><circle cx="14.2" cy="116.8" r="0.81" fill="#f4f4f4" opacity="0.95"/><circle cx="3.7" cy="94.2" r="1.58" fill="#f4f4f4" opacity="0.95"/><circle cx="2.9" cy="105.0" r="1.22" fill="#f4f4f4" opacity="0.95"/><circle cx="17.6" cy="111.9" r="0.98" fill="#f4f4f4" opacity="0.95"/><circle cx="19.6" cy="106.8" r="1.42" fill="#f4f4f4" opacity="0.95"/><circle cx="1.3" cy="114.9" r="0.61" fill="#f4f4f4" opacity="0.95"/><circle cx="9.3" cy="106.9" r="0.70" fill="#f4f4f4" opacity="0.95"/><circle cx="10.8" cy="118.7" r="0.54" fill="#f4f4f4" opacity="0.95"/><circle cx="4.7" cy="122.3" r="0.99" fill="#f4f4f4" opacity="0.95"/><circle cx="9.4" cy="120.5" r="1.35" fill="#f4f4f4" opacity="0.95"/><circle cx="4.2" cy="111.3" r="0.70" fill="#f4f4f4" opacity="0.95"/><circle cx="18.6" cy="110.1" r="1.38" fill="#f4f4f4" opacity="0.95"/><circle cx="1.6" cy="120.9" r="0.75" fill="#f4f4f4" opacity="0.95"/><circle cx="20.4" cy="106.8" r="1.48" fill="#f4f4f4" opacity="0.95"/><circle cx="2.4" cy="95.6" r="1.02" fill="#f4f4f4" opacity="0.95"/><circle cx="12.2" cy="98.8" r="1.10" fill="#f4f4f4" opacity="0.95"/><circle cx="10.3" cy="119.7" r="1.32" fill="#f4f4f4" opacity="0.95"/><circle cx="11.5" cy="98.3" r="0.66" fill="#f4f4f4" opacity="0.95"/><circle cx="5.4" cy="117.5" r="0.74" fill="#f4f4f4" opacity="0.95"/><circle cx="10.9" cy="119.4" r="0.61" fill="#f4f4f4" opacity="0.95"/><circle cx="2.5" cy="95.5" r="0.67" fill="#f4f4f4" opacity="0.95"/><circle cx="9.0" cy="103.3" r="0.81" fill="#f4f4f4" opacity="0.95"/><circle cx="0.3" cy="108.1" r="0.99" fill="#f4f4f4" opacity="0.95"/><circle cx="17.8" cy="102.8" r="1.14" fill="#f4f4f4" opacity="0.95"/><circle cx="7.5" cy="115.8" r="0.69" fill="#f4f4f4" opacity="0.95"/><circle cx="11.7" cy="106.9" r="1.00" fill="#f4f4f4" opacity="0.95"/><circle cx="12.9" cy="109.5" r="0.85" fill="#f4f4f4" opacity="0.95"/><circle cx="19.8" cy="121.6" r="1.11" fill="#f4f4f4" opacity="0.95"/><circle cx="15.3" cy="115.0" r="0.85" fill="#f4f4f4" opacity="0.95"/><circle cx="14.2" cy="107.4" r="1.03" fill="#f4f4f4" opacity="0.95"/><circle cx="9.5" cy="109.6" r="0.74" fill="#f4f4f4" opacity="0.95"/><circle cx="5.8" cy="99.8" r="1.15" fill="#f4f4f4" opacity="0.95"/><circle cx="5.9" cy="116.6" r="1.50" fill="#f4f4f4" opacity="0.95"/><circle cx="18.2" cy="103.5" r="1.54" fill="#f4f4f4" opacity="0.95"/><circle cx="8.3" cy="104.5" r="1.15" fill="#f4f4f4" opacity="0.95"/><circle cx="15.9" cy="105.9" r="1.37" fill="#f4f4f4" opacity="0.95"/><circle cx="20.5" cy="102.4" r="0.75" fill="#f4f4f4" opacity="0.95"/><circle cx="9.5" cy="114.3" r="1.24" fill="#f4f4f4" opacity="0.95"/><circle cx="4.2" cy="105.3" r="1.49" fill="#f4f4f4" opacity="0.95"/><circle cx="18.7" cy="118.4" r="0.74" fill="#f4f4f4" opacity="0.95"/><circle cx="1.6" cy="111.7" r="0.92" fill="#f4f4f4" opacity="0.95"/><circle cx="17.1" cy="102.5" r="0.98" fill="#f4f4f4" opacity="0.95"/><circle cx="19.4" cy="96.7" r="0.95" fill="#f4f4f4" opacity="0.95"/><circle cx="3.7" cy="109.5" r="1.31" fill="#f4f4f4" opacity="0.95"/><circle cx="23.7" cy="115.9" r="0.66" fill="#f4f4f4" opacity="0.95"/><circle cx="10.5" cy="109.7" r="1.20" fill="#f4f4f4" opacity="0.95"/><circle cx="16.8" cy="122.2" r="1.54" fill="#f4f4f4" opacity="0.95"/><circle cx="5.0" cy="98.6" r="1.57" fill="#f4f4f4" opacity="0.95"/><circle cx="3.9" cy="122.1" r="0.63" fill="#f4f4f4" opacity="0.95"/><circle cx="14.0" cy="97.8" r="0.65" fill="#f4f4f4" opacity="0.95"/><circle cx="8.0" cy="117.0" r="1.27" fill="#f4f4f4" opacity="0.95"/><circle cx="7.6" cy="98.0" r="0.89" fill="#f4f4f4" opacity="0.95"/><circle cx="4.2" cy="100.8" r="1.05" fill="#f4f4f4" opacity="0.95"/><circle cx="11.7" cy="120.8" r="0.60" fill="#f4f4f4" opacity="0.95"/><circle cx="12.8" cy="110.4" r="0.66" fill="#f4f4f4" opacity="0.95"/><circle cx="8.7" cy="98.0" r="1.48" fill="#f4f4f4" opacity="0.95"/><circle cx="8.4" cy="95.9" r="1.02" fill="#f4f4f4" opacity="0.95"/><circle cx="12.7" cy="119.7" r="1.29" fill="#f4f4f4" opacity="0.95"/><circle cx="4.9" cy="120.3" r="0.51" fill="#f4f4f4" opacity="0.95"/><circle cx="16.7" cy="95.2" r="1.40" fill="#f4f4f4" opacity="0.95"/><circle cx="4.5" cy="117.1" r="1.39" fill="#f4f4f4" opacity="0.95"/><circle cx="18.5" cy="97.2" r="0.94" fill="#f4f4f4" opacity="0.95"/><circle cx="2.5" cy="114.8" r="1.59" fill="#f4f4f4" opacity="0.95"/><circle cx="12.5" cy="112.9" r="1.23" fill="#f4f4f4" opacity="0.95"/><circle cx="3.4" cy="104.8" r="0.88" fill="#f4f4f4" opacity="0.95"/><circle cx="18.0" cy="105.9" r="0.90" fill="#f4f4f4" opacity="0.95"/><circle cx="13.2" cy="100.0" r="0.57" fill="#f4f4f4" opacity="0.95"/><circle cx="5.7" cy="94.6" r="1.24" fill="#f4f4f4" opacity="0.95"/><circle cx="11.0" cy="111.9" r="1.12" fill="#f4f4f4" opacity="0.95"/><circle cx="1.3" cy="117.6" r="1.40" fill="#f4f4f4" opacity="0.95"/><circle cx="0.2" cy="106.5" r="1.36" fill="#f4f4f4" opacity="0.95"/><circle cx="10.0" cy="118.9" r="1.26" fill="#f4f4f4" opacity="0.95"/><circle cx="15.9" cy="120.3" r="1.36" fill="#f4f4f4" opacity="0.95"/><circle cx="14.0" cy="95.4" r="1.00" fill="#f4f4f4" opacity="0.95"/><circle cx="16.5" cy="109.2" r="1.14" fill="#f4f4f4" opacity="0.95"/><circle cx="8.7" cy="89.4" r="0.45" fill="#c8c8c8" opacity="0.60"/><circle cx="16.0" cy="75.3" r="0.39" fill="#c8c8c8" opacity="0.60"/><circle cx="0.5" cy="64.5" r="0.47" fill="#c8c8c8" opacity="0.60"/><circle cx="11.8" cy="60.9" r="0.34" fill="#c8c8c8" opacity="0.60"/><circle cx="19.9" cy="94.3" r="0.56" fill="#c8c8c8" opacity="0.60"/><circle cx="11.7" cy="81.1" r="0.36" fill="#c8c8c8" opacity="0.60"/><circle cx="13.5" cy="83.6" r="0.87" fill="#c8c8c8" opacity="0.60"/><circle cx="16.1" cy="79.1" r="0.55" fill="#c8c8c8" opacity="0.60"/><circle cx="22.8" cy="78.3" r="0.59" fill="#c8c8c8" opacity="0.60"/><circle cx="18.3" cy="75.3" r="0.34" fill="#c8c8c8" opacity="0.60"/><circle cx="14.8" cy="90.3" r="0.52" fill="#c8c8c8" opacity="0.60"/><circle cx="2.4" cy="63.7" r="0.84" fill="#c8c8c8" opacity="0.60"/><circle cx="2.8" cy="82.9" r="0.35" fill="#c8c8c8" opacity="0.60"/><circle cx="12.8" cy="91.9" r="0.44" fill="#c8c8c8" opacity="0.60"/><circle cx="7.7" cy="81.4" r="0.64" fill="#c8c8c8" opacity="0.60"/><circle cx="14.0" cy="73.7" r="0.32" fill="#c8c8c8" opacity="0.60"/><circle cx="14.9" cy="69.7" r="0.67" fill="#c8c8c8" opacity="0.60"/><circle cx="10.9" cy="69.4" r="0.90" fill="#c8c8c8" opacity="0.60"/><circle cx="8.0" cy="94.0" r="0.59" fill="#c8c8c8" opacity="0.60"/><circle cx="13.4" cy="69.4" r="0.40" fill="#c8c8c8" opacity="0.60"/><circle cx="17.7" cy="75.9" r="0.65" fill="#c8c8c8" opacity="0.60"/><circle cx="4.6" cy="77.8" r="0.70" fill="#c8c8c8" opacity="0.60"/><circle cx="19.0" cy="83.3" r="0.55" fill="#c8c8c8" opacity="0.60"/><circle cx="17.1" cy="80.9" r="0.59" fill="#c8c8c8" opacity="0.60"/><circle cx="15.8" cy="70.7" r="0.34" fill="#c8c8c8" opacity="0.60"/></g><g filter="url(#b05)"><circle cx="16" cy="103.5" r="3.8" fill="#3a3c48" opacity="0.6"/><polygon points="15.12,100.92 17.56,100.64 18.79,102.62 17.70,104.79 17.02,106.36 14.78,105.61 13.28,104.32 14.10,102.41" fill="#f4bc38" stroke="#e0a020" stroke-width="0.5"/></g><rect x="0" y="0" width="125" height="123" fill="none" stroke="#8a8a8a" stroke-width="1"/></g></svg><rect x="119.5" y="244.6" width="18.3" height="20.3" fill="#fff"/><text x="128.2" y="259.1" font-size="15.5" text-anchor="middle" fill="#111" stroke="#111" stroke-width="0.3">a</text><svg x="145.7" y="242.2" width="125.1" height="123.1" viewBox="0 0 125 123" preserveAspectRatio="none" overflow="hidden"><g filter="url(#pb)"><rect width="125" height="123" fill="#050505"/><g filter="url(#b2)"><polygon points="43.0,-1.0 70.0,-1.0 70.0,12.0 72.0,23.0 80.0,32.0 82.0,46.0 86.0,56.0 90.0,60.0 80.0,63.0 66.0,64.0 64.0,72.0 66.0,85.0 62.0,100.0 64.0,112.0 66.0,123.5 52.0,123.5 54.0,105.0 55.0,90.0 53.0,75.0 55.0,63.0 46.0,53.0 43.0,40.0 42.0,20.0" fill="#0b0b0b"/><polygon points="55.0,60.0 88.0,56.0 94.0,60.0 100.0,66.0 104.0,72.0 98.0,80.0 95.0,88.0 100.0,95.0 104.0,100.0 106.0,104.0 100.0,108.0 90.0,106.0 82.0,112.0 76.0,123.5 55.0,123.5 54.0,100.0 53.0,75.0" fill="#0b0b0b"/><polygon points="76.0,27.0 84.0,22.0 88.0,25.0 82.0,30.0" fill="#0b0b0b"/></g><g clip-path="url(#cSandF)"><rect x="-40" y="-40" width="205" height="203" filter="url(#nzS)" opacity="0.04" transform="rotate(-35 62 62)"/></g><polygon points="0.0,22.0 3.0,28.0 7.0,36.0 12.0,47.0 17.0,60.0 21.0,70.0 24.0,73.0 24.8,80.0 24.8,94.0 22.4,99.0 22.0,106.0 23.0,112.0 25.0,118.0 26.0,123.5 0.0,123.0" fill="#8e8e8e"/><g clip-path="url(#cLandT)"><rect x="-40" y="-40" width="205" height="203" filter="url(#nzL)" opacity="0.55"/></g><g clip-path="url(#cLandT)"><rect x="-40" y="-40" width="205" height="203" filter="url(#nzD)" opacity="0.7"/></g><g filter="url(#b05)"><circle cx="16.6" cy="103.8" r="3.8" fill="#3a3c48" opacity="0.6"/><polygon points="15.72,101.22 18.16,100.94 19.39,102.92 18.30,105.09 17.62,106.66 15.38,105.91 13.88,104.62 14.70,102.71" fill="#f4bc38" stroke="#e0a020" stroke-width="0.5"/></g><rect x="0" y="0" width="125" height="123" fill="none" stroke="#777" stroke-width="0.8"/></g></svg><rect x="249.8" y="244.6" width="18.3" height="20.3" fill="#fff"/><text x="258.5" y="259.1" font-size="15.5" text-anchor="middle" fill="#111" stroke="#111" stroke-width="0.3">b</text><svg x="276.4" y="242.2" width="125.1" height="123.1" viewBox="0 0 125 123" preserveAspectRatio="none" overflow="hidden"><g filter="url(#pb)"><rect width="125" height="123" fill="#383838"/><g filter="url(#b5)"><polygon points="0,0 30,0 20,30 0,30" fill="#464646"/><polygon points="10,40 30,70 32,123 18,123" fill="#3f3f3f"/></g><g filter="url(#b2)" opacity="0.6"><polygon points="43.0,-1.0 70.0,-1.0 70.0,12.0 72.0,23.0 80.0,32.0 82.0,46.0 86.0,56.0 90.0,60.0 80.0,63.0 66.0,64.0 64.0,72.0 66.0,85.0 62.0,100.0 64.0,112.0 66.0,123.5 52.0,123.5 54.0,105.0 55.0,90.0 53.0,75.0 55.0,63.0 46.0,53.0 43.0,40.0 42.0,20.0" fill="#3e3e3e"/><polygon points="55.0,60.0 88.0,56.0 94.0,60.0 100.0,66.0 104.0,72.0 98.0,80.0 95.0,88.0 100.0,95.0 104.0,100.0 106.0,104.0 100.0,108.0 90.0,106.0 82.0,112.0 76.0,123.5 55.0,123.5 54.0,100.0 53.0,75.0" fill="#3e3e3e"/><polygon points="76.0,27.0 84.0,22.0 88.0,25.0 82.0,30.0" fill="#3e3e3e"/><polygon points="53.0,62.0 55.0,75.0 54.0,90.0 54.0,105.0 52.0,123.5 26.0,123.5 27.0,108.0 30.0,92.0 33.0,78.0 38.0,70.0 46.0,66.0" fill="#3e3e3e"/></g><polygon points="0.0,22.0 3.0,28.0 7.0,36.0 12.0,47.0 17.0,60.0 21.0,70.0 24.0,73.0 24.8,80.0 24.8,94.0 22.4,99.0 22.0,106.0 23.0,112.0 25.0,118.0 26.0,123.5 0.0,123.0" fill="#a4a4a4"/><g clip-path="url(#cLandT)"><rect x="-40" y="-40" width="205" height="203" filter="url(#nzL)" opacity="0.55"/></g><g clip-path="url(#cLandT)"><rect x="-40" y="-40" width="205" height="203" filter="url(#nzD)" opacity="0.6"/></g><g filter="url(#b05)"><circle cx="16.6" cy="103.8" r="3.8" fill="#3a3c48" opacity="0.6"/><polygon points="15.72,101.22 18.16,100.94 19.39,102.92 18.30,105.09 17.62,106.66 15.38,105.91 13.88,104.62 14.70,102.71" fill="#f4bc38" stroke="#e0a020" stroke-width="0.5"/></g><rect x="0" y="0" width="125" height="123" fill="none" stroke="#666" stroke-width="0.8"/></g></svg><rect x="380.5" y="244.6" width="18.3" height="20.3" fill="#fff"/><text x="389.2" y="259.1" font-size="15.5" text-anchor="middle" fill="#111" stroke="#111" stroke-width="0.3">c</text><svg x="406.8" y="242.2" width="125.1" height="123.1" viewBox="0 0 125 123" preserveAspectRatio="none" overflow="hidden"><g filter="url(#pb)"><rect width="125" height="123" fill="#2c2c2c"/><g filter="url(#b5)"><polygon points="0,0 30,0 20,30 0,30" fill="#363636"/></g><g filter="url(#b2)" opacity="0.6"><polygon points="43.0,-1.0 70.0,-1.0 70.0,12.0 72.0,23.0 80.0,32.0 82.0,46.0 86.0,56.0 90.0,60.0 80.0,63.0 66.0,64.0 64.0,72.0 66.0,85.0 62.0,100.0 64.0,112.0 66.0,123.5 52.0,123.5 54.0,105.0 55.0,90.0 53.0,75.0 55.0,63.0 46.0,53.0 43.0,40.0 42.0,20.0" fill="#313131"/><polygon points="55.0,60.0 88.0,56.0 94.0,60.0 100.0,66.0 104.0,72.0 98.0,80.0 95.0,88.0 100.0,95.0 104.0,100.0 106.0,104.0 100.0,108.0 90.0,106.0 82.0,112.0 76.0,123.5 55.0,123.5 54.0,100.0 53.0,75.0" fill="#313131"/><polygon points="76.0,27.0 84.0,22.0 88.0,25.0 82.0,30.0" fill="#313131"/><polygon points="53.0,62.0 55.0,75.0 54.0,90.0 54.0,105.0 52.0,123.5 26.0,123.5 27.0,108.0 30.0,92.0 33.0,78.0 38.0,70.0 46.0,66.0" fill="#313131"/></g><polygon points="0.0,22.0 3.0,28.0 7.0,36.0 12.0,47.0 17.0,60.0 21.0,70.0 24.0,73.0 24.8,80.0 24.8,94.0 22.4,99.0 22.0,106.0 23.0,112.0 25.0,118.0 26.0,123.5 0.0,123.0" fill="#a4a4a4"/><g clip-path="url(#cLandT)"><rect x="-40" y="-40" width="205" height="203" filter="url(#nzL)" opacity="0.55"/></g><g clip-path="url(#cLandT)"><rect x="-40" y="-40" width="205" height="203" filter="url(#nzD)" opacity="0.6"/></g><g filter="url(#b05)"><circle cx="16.6" cy="103.8" r="3.8" fill="#3a3c48" opacity="0.6"/><polygon points="15.72,101.22 18.16,100.94 19.39,102.92 18.30,105.09 17.62,106.66 15.38,105.91 13.88,104.62 14.70,102.71" fill="#f4bc38" stroke="#e0a020" stroke-width="0.5"/></g><rect x="0" y="0" width="125" height="123" fill="none" stroke="#555" stroke-width="0.8"/></g></svg><rect x="510.9" y="244.6" width="18.3" height="20.3" fill="#fff"/><text x="519.6" y="259.1" font-size="15.5" text-anchor="middle" fill="#111" stroke="#111" stroke-width="0.3">d</text><svg x="15.4" y="372.4" width="125.1" height="123.1" viewBox="0 0 125 123" preserveAspectRatio="none" overflow="hidden"><g filter="url(#pb)"><rect width="125" height="123" fill="#cdbab6"/><g filter="url(#b2)"><ellipse cx="16" cy="34" rx="4.5" ry="14" transform="rotate(-12 16 34)" fill="#74b6b2"/><polygon points="74,0 100,0 96,30 82,28 78,12" fill="#92c2c0"/><polygon points="100,10 125,10 125,60 105,70 95,50" fill="#a6c6c2"/><polygon points="85,110 125,95 125,123 80,123" fill="#7fb8b4"/><polygon points="20,10 40,5 40,60 30,60" fill="#bcc4c0"/></g><g filter="url(#b1)" opacity="0.7"><path d="M103.0,86.8 q10,-8 22,-20" stroke="#dcc2c0" stroke-width="2" fill="none"/><path d="M110.8,104.8 q10,-8 22,-20" stroke="#dcc2c0" stroke-width="2" fill="none"/><path d="M108.3,103.0 q10,-8 22,-20" stroke="#dcc2c0" stroke-width="2" fill="none"/><path d="M76.3,61.9 q10,-8 22,-20" stroke="#dcc2c0" stroke-width="2" fill="none"/><path d="M117.5,78.4 q10,-8 22,-20" stroke="#dcc2c0" stroke-width="2" fill="none"/><path d="M115.5,30.2 q10,-8 22,-20" stroke="#dcc2c0" stroke-width="2" fill="none"/><path d="M96.1,42.2 q10,-8 22,-20" stroke="#dcc2c0" stroke-width="2" fill="none"/><path d="M99.5,71.7 q10,-8 22,-20" stroke="#dcc2c0" stroke-width="2" fill="none"/><path d="M75.6,39.5 q10,-8 22,-20" stroke="#dcc2c0" stroke-width="2" fill="none"/><path d="M87.6,102.5 q10,-8 22,-20" stroke="#dcc2c0" stroke-width="2" fill="none"/><path d="M110.6,34.4 q10,-8 22,-20" stroke="#9cc8c6" stroke-width="2" fill="none"/><path d="M111.9,32.5 q10,-8 22,-20" stroke="#9cc8c6" stroke-width="2" fill="none"/><path d="M104.7,31.4 q10,-8 22,-20" stroke="#9cc8c6" stroke-width="2" fill="none"/><path d="M80.1,98.4 q10,-8 22,-20" stroke="#9cc8c6" stroke-width="2" fill="none"/><path d="M88.4,39.4 q10,-8 22,-20" stroke="#9cc8c6" stroke-width="2" fill="none"/><path d="M119.3,98.5 q10,-8 22,-20" stroke="#9cc8c6" stroke-width="2" fill="none"/></g><g filter="url(#b1)"><polygon points="0.0,12.0 4.0,16.0 9.0,30.0 13.0,44.0 18.0,58.0 23.0,72.0 28.0,86.0 31.0,100.0 31.0,123.5 22.0,123.5 22.0,105.0 21.0,89.0 17.4,75.0 12.7,61.0 8.0,48.0 4.0,44.0 0.0,40.0" fill="#8e7678"/><polygon points="0,12 4,16 9,30 13,44 8,48 4,44 0,40" fill="#6e5650"/></g><polygon points="43.0,-1.0 70.0,-1.0 70.0,12.0 72.0,23.0 80.0,32.0 82.0,46.0 86.0,56.0 90.0,60.0 80.0,63.0 66.0,64.0 64.0,72.0 66.0,85.0 62.0,100.0 64.0,112.0 66.0,123.5 52.0,123.5 54.0,105.0 55.0,90.0 53.0,75.0 55.0,63.0 46.0,53.0 43.0,40.0 42.0,20.0" fill="#675668"/><polygon points="55.0,60.0 88.0,56.0 94.0,60.0 100.0,66.0 104.0,72.0 98.0,80.0 95.0,88.0 100.0,95.0 104.0,100.0 106.0,104.0 100.0,108.0 90.0,106.0 82.0,112.0 76.0,123.5 55.0,123.5 54.0,100.0 53.0,75.0" fill="#675668"/><polygon points="76.0,27.0 84.0,22.0 88.0,25.0 82.0,30.0" fill="#675668"/><polygon points="53.0,62.0 55.0,75.0 54.0,90.0 54.0,105.0 52.0,123.5 22.0,123.5 22.0,105.0 24.0,90.0 28.0,78.0 36.0,70.0 46.0,66.0" fill="#675668"/><polygon points="100.6,70.0 104.0,68.8 107.8,71.0 104.0,74.0" fill="#675668"/><g clip-path="url(#cSandE)"><rect x="-40" y="-40" width="205" height="203" filter="url(#nz1)" opacity="0.25"/></g><g clip-path="url(#cSandE)"><rect x="-40" y="-40" width="205" height="203" filter="url(#nz2)" opacity="0.45"/></g><g clip-path="url(#cSandE)" opacity="0.7" filter="url(#b05)"><line x1="50" y1="40" x2="78" y2="20" stroke="#b4a2a6" stroke-width="2.6"/><line x1="52" y1="55" x2="85" y2="38" stroke="#b4a2a6" stroke-width="2.6"/><line x1="60" y1="74" x2="98" y2="62" stroke="#b4a2a6" stroke-width="2.6"/><line x1="58" y1="89" x2="100" y2="80" stroke="#b4a2a6" stroke-width="2.6"/><line x1="62" y1="100" x2="100" y2="92" stroke="#b4a2a6" stroke-width="2.6"/><line x1="60" y1="112" x2="96" y2="104" stroke="#b4a2a6" stroke-width="2.6"/><line x1="60" y1="30" x2="72" y2="12" stroke="#b4a2a6" stroke-width="2.6"/><line x1="35" y1="95" x2="60" y2="80" stroke="#b4a2a6" stroke-width="2.6"/><line x1="30" y1="110" x2="58" y2="100" stroke="#b4a2a6" stroke-width="2.6"/></g><g filter="url(#b05)"><polygon points="66,4 73,3 72,12 67,13" fill="#1e1a22"/></g><polygon points="0.0,40.0 4.0,44.0 8.0,48.0 12.7,61.0 17.4,75.0 21.0,89.0 22.0,105.0 22.0,123.5 0.0,123.5" fill="#2b2e22"/><g clip-path="url(#cLandEF)"><rect x="-40" y="-40" width="205" height="203" filter="url(#nzL)" opacity="0.45"/></g><circle cx="7.2" cy="115.8" r="1.34" fill="#8c9cb4" opacity="0.80"/><circle cx="14.2" cy="71.9" r="1.74" fill="#8c9cb4" opacity="0.80"/><circle cx="14.4" cy="116.1" r="1.69" fill="#8c9cb4" opacity="0.80"/><circle cx="7.4" cy="80.9" r="0.97" fill="#8c9cb4" opacity="0.80"/><circle cx="4.6" cy="63.8" r="1.10" fill="#8c9cb4" opacity="0.80"/><circle cx="14.2" cy="79.6" r="1.11" fill="#8c9cb4" opacity="0.80"/><circle cx="16.7" cy="87.9" r="1.12" fill="#8c9cb4" opacity="0.80"/><circle cx="10.7" cy="100.9" r="0.86" fill="#8c9cb4" opacity="0.80"/><circle cx="15.5" cy="109.0" r="0.82" fill="#8c9cb4" opacity="0.80"/><circle cx="16.2" cy="81.2" r="1.38" fill="#8c9cb4" opacity="0.80"/><circle cx="2.2" cy="62.7" r="0.98" fill="#8c9cb4" opacity="0.80"/><g filter="url(#b05)"><circle cx="16" cy="103.5" r="3.8" fill="#3a3c48" opacity="0.6"/><polygon points="15.12,100.92 17.56,100.64 18.79,102.62 17.70,104.79 17.02,106.36 14.78,105.61 13.28,104.32 14.10,102.41" fill="#f4bc38" stroke="#e0a020" stroke-width="0.5"/></g><rect x="0" y="0" width="125" height="123" fill="none" stroke="#888" stroke-width="0.8"/><circle cx="42.8" cy="3.6" r="1.5" fill="#3dd13d" opacity="0.9"/><circle cx="50.0" cy="5.7" r="1.5" fill="#3dd13d" opacity="0.9"/><circle cx="56.5" cy="14.5" r="1.5" fill="#3dd13d" opacity="0.9"/><circle cx="43.5" cy="15.7" r="1.5" fill="#3dd13d" opacity="0.9"/><circle cx="58.0" cy="14.5" r="1.5" fill="#3dd13d" opacity="0.9"/><circle cx="68.5" cy="23.3" r="1.5" fill="#3dd13d" opacity="0.9"/><circle cx="63.0" cy="30.4" r="1.5" fill="#3dd13d" opacity="0.9"/><circle cx="80.0" cy="29.0" r="1.5" fill="#3dd13d" opacity="0.9"/><circle cx="42.5" cy="33.0" r="1.5" fill="#3dd13d" opacity="0.9"/><circle cx="41.5" cy="43.3" r="1.5" fill="#3dd13d" opacity="0.9"/><circle cx="75.9" cy="45.0" r="1.5" fill="#3dd13d" opacity="0.9"/><circle cx="84.6" cy="53.9" r="1.5" fill="#3dd13d" opacity="0.9"/><circle cx="43.8" cy="56.6" r="1.5" fill="#3dd13d" opacity="0.9"/><circle cx="47.0" cy="58.6" r="1.5" fill="#3dd13d" opacity="0.9"/><circle cx="33.4" cy="68.6" r="1.5" fill="#3dd13d" opacity="0.9"/><circle cx="36.0" cy="71.0" r="1.5" fill="#3dd13d" opacity="0.9"/><circle cx="40.0" cy="72.0" r="1.5" fill="#3dd13d" opacity="0.9"/><circle cx="44.0" cy="74.0" r="1.5" fill="#3dd13d" opacity="0.9"/><circle cx="47.4" cy="76.0" r="1.5" fill="#3dd13d" opacity="0.9"/><circle cx="55.0" cy="83.0" r="1.5" fill="#3dd13d" opacity="0.9"/><circle cx="60.0" cy="85.0" r="1.5" fill="#3dd13d" opacity="0.9"/><circle cx="65.0" cy="92.0" r="1.5" fill="#3dd13d" opacity="0.9"/><circle cx="70.0" cy="96.0" r="1.5" fill="#3dd13d" opacity="0.9"/><circle cx="50.0" cy="100.0" r="1.5" fill="#3dd13d" opacity="0.9"/><circle cx="75.0" cy="102.0" r="1.5" fill="#3dd13d" opacity="0.9"/><circle cx="88.0" cy="99.0" r="1.5" fill="#3dd13d" opacity="0.9"/><circle cx="95.0" cy="88.0" r="1.5" fill="#3dd13d" opacity="0.9"/><circle cx="100.0" cy="80.0" r="1.5" fill="#3dd13d" opacity="0.9"/><circle cx="62.0" cy="110.0" r="1.5" fill="#3dd13d" opacity="0.9"/><circle cx="75.0" cy="115.0" r="1.5" fill="#3dd13d" opacity="0.9"/><circle cx="40.0" cy="118.0" r="1.5" fill="#3dd13d" opacity="0.9"/><circle cx="30.0" cy="120.0" r="1.5" fill="#3dd13d" opacity="0.9"/><circle cx="102.0" cy="72.0" r="1.5" fill="#3dd13d" opacity="0.9"/></g></svg><rect x="119.5" y="374.8" width="18.3" height="20.3" fill="#fff"/><text x="128.2" y="389.3" font-size="15.5" text-anchor="middle" fill="#111" stroke="#111" stroke-width="0.3">e</text><svg x="145.7" y="372.4" width="125.1" height="123.1" viewBox="0 0 125 123" preserveAspectRatio="none" overflow="hidden"><g filter="url(#pb)"><rect width="125" height="123" fill="#cbcbcb"/><g filter="url(#b5)"><polygon points="95,0 125,0 125,123 95,123" fill="#d2d2d2"/><polygon points="10,0 40,0 40,80 30,123 15,123" fill="#c6c6c6"/></g><polygon points="43.0,-1.0 70.0,-1.0 70.0,12.0 72.0,23.0 80.0,32.0 82.0,46.0 86.0,56.0 90.0,60.0 80.0,63.0 66.0,64.0 64.0,72.0 66.0,85.0 62.0,100.0 64.0,112.0 66.0,123.5 52.0,123.5 54.0,105.0 55.0,90.0 53.0,75.0 55.0,63.0 46.0,53.0 43.0,40.0 42.0,20.0" fill="#a3a3a3"/><polygon points="55.0,60.0 88.0,56.0 94.0,60.0 100.0,66.0 104.0,72.0 98.0,80.0 95.0,88.0 100.0,95.0 104.0,100.0 106.0,104.0 100.0,108.0 90.0,106.0 82.0,112.0 76.0,123.5 55.0,123.5 54.0,100.0 53.0,75.0" fill="#a3a3a3"/><polygon points="76.0,27.0 84.0,22.0 88.0,25.0 82.0,30.0" fill="#a3a3a3"/><polygon points="100.6,70.0 104.0,68.8 107.8,71.0 104.0,74.0" fill="#a3a3a3"/><g clip-path="url(#cSandF)"><rect x="-40" y="-40" width="205" height="203" filter="url(#nz2)" opacity="0.15"/></g><g clip-path="url(#cSandF)" opacity="0.8" filter="url(#b05)"><line x1="50" y1="40" x2="78" y2="20" stroke="#c4c4c4" stroke-width="2.2"/><line x1="52" y1="55" x2="85" y2="38" stroke="#c4c4c4" stroke-width="2.2"/><line x1="60" y1="74" x2="98" y2="62" stroke="#c4c4c4" stroke-width="2.2"/><line x1="58" y1="89" x2="100" y2="80" stroke="#c4c4c4" stroke-width="2.2"/><line x1="62" y1="100" x2="100" y2="92" stroke="#c4c4c4" stroke-width="2.2"/><line x1="60" y1="112" x2="96" y2="104" stroke="#c4c4c4" stroke-width="2.2"/><line x1="60" y1="30" x2="72" y2="12" stroke="#c4c4c4" stroke-width="2.2"/><line x1="35" y1="95" x2="60" y2="80" stroke="#c4c4c4" stroke-width="2.2"/><line x1="30" y1="110" x2="58" y2="100" stroke="#c4c4c4" stroke-width="2.2"/></g><polygon points="0.0,22.0 3.0,30.0 8.7,38.0 14.6,47.0 17.0,52.0 21.0,58.0 24.0,62.0 24.5,80.0 24.0,100.0 26.0,110.0 28.0,123.5 0.0,123.5" fill="#2e2e2e"/><g clip-path="url(#cLandF)"><rect x="-40" y="-40" width="205" height="203" filter="url(#nzL)" opacity="0.5"/></g><g filter="url(#b05)"><circle cx="16" cy="103.5" r="3.8" fill="#3a3c48" opacity="0.6"/><polygon points="15.12,100.92 17.56,100.64 18.79,102.62 17.70,104.79 17.02,106.36 14.78,105.61 13.28,104.32 14.10,102.41" fill="#f4bc38" stroke="#e0a020" stroke-width="0.5"/></g><rect x="0" y="0" width="125" height="123" fill="none" stroke="#777" stroke-width="0.8"/></g></svg><rect x="249.8" y="374.8" width="18.3" height="20.3" fill="#fff"/><text x="258.5" y="389.3" font-size="15.5" text-anchor="middle" fill="#111" stroke="#111" stroke-width="0.3">f</text><svg x="276.4" y="372.4" width="125.1" height="123.1" viewBox="0 0 125 123" preserveAspectRatio="none" overflow="hidden"><g filter="url(#pb)"><rect width="125" height="123" fill="#3b3b3b"/><g filter="url(#b5)"><polygon points="8,0 42,0 42,60 25,60" fill="#2a2a2a"/></g><polygon points="43.0,-1.0 70.0,-1.0 70.0,12.0 72.0,23.0 80.0,32.0 82.0,46.0 86.0,56.0 90.0,60.0 80.0,63.0 66.0,64.0 64.0,72.0 66.0,85.0 62.0,100.0 64.0,112.0 66.0,123.5 52.0,123.5 54.0,105.0 55.0,90.0 53.0,75.0 55.0,63.0 46.0,53.0 43.0,40.0 42.0,20.0" fill="#4c4c4c"/><polygon points="55.0,60.0 88.0,56.0 94.0,60.0 100.0,66.0 104.0,72.0 98.0,80.0 95.0,88.0 100.0,95.0 104.0,100.0 106.0,104.0 100.0,108.0 90.0,106.0 82.0,112.0 76.0,123.5 55.0,123.5 54.0,100.0 53.0,75.0" fill="#4c4c4c"/><polygon points="76.0,27.0 84.0,22.0 88.0,25.0 82.0,30.0" fill="#4c4c4c"/><polygon points="53.0,62.0 55.0,75.0 54.0,90.0 54.0,105.0 52.0,123.5 26.0,123.5 27.0,108.0 30.0,92.0 33.0,78.0 38.0,70.0 46.0,66.0" fill="#4c4c4c"/><polygon points="100.6,70.0 104.0,68.8 107.8,71.0 104.0,74.0" fill="#595959"/><g clip-path="url(#cSand)"><rect x="-40" y="-40" width="205" height="203" filter="url(#nzS)" opacity="0.8" transform="rotate(-35 62 62)"/></g><g clip-path="url(#cSand)"><rect x="-40" y="-40" width="205" height="203" filter="url(#nz1)" opacity="0.2"/></g><g clip-path="url(#cSand)"><rect x="-40" y="-40" width="205" height="203" filter="url(#nz2)" opacity="0.3"/></g><g clip-path="url(#cSand)" opacity="0.6" filter="url(#b05)"><line x1="50" y1="40" x2="78" y2="20" stroke="#3b3b3b" stroke-width="1.6"/><line x1="52" y1="55" x2="85" y2="38" stroke="#3b3b3b" stroke-width="1.6"/><line x1="60" y1="74" x2="98" y2="62" stroke="#3b3b3b" stroke-width="1.6"/><line x1="58" y1="89" x2="100" y2="80" stroke="#3b3b3b" stroke-width="1.6"/><line x1="62" y1="100" x2="100" y2="92" stroke="#3b3b3b" stroke-width="1.6"/><line x1="60" y1="112" x2="96" y2="104" stroke="#3b3b3b" stroke-width="1.6"/><line x1="60" y1="30" x2="72" y2="12" stroke="#3b3b3b" stroke-width="1.6"/><line x1="35" y1="95" x2="60" y2="80" stroke="#3b3b3b" stroke-width="1.6"/><line x1="30" y1="110" x2="58" y2="100" stroke="#3b3b3b" stroke-width="1.6"/></g><polygon points="0.0,15.0 4.3,18.4 11.4,34.9 18.4,58.4 22.0,70.2 24.3,93.7 25.5,123.5 0.0,123.5" fill="#949494"/><g clip-path="url(#cLandG)"><rect x="-40" y="-40" width="205" height="203" filter="url(#nzL)" opacity="0.45"/></g><g clip-path="url(#cLandG)"><rect x="-40" y="-40" width="205" height="203" filter="url(#nzD)" opacity="0.8"/></g><g filter="url(#b05)"><circle cx="16" cy="103.5" r="3.8" fill="#3a3c48" opacity="0.6"/><polygon points="15.12,100.92 17.56,100.64 18.79,102.62 17.70,104.79 17.02,106.36 14.78,105.61 13.28,104.32 14.10,102.41" fill="#f4bc38" stroke="#e0a020" stroke-width="0.5"/></g><rect x="0" y="0" width="125" height="123" fill="none" stroke="#666" stroke-width="0.8"/><polygon points="42.7,1.9 44.0,4.2 41.4,4.2" fill="#36c436"/><polygon points="48.9,5.5 50.2,7.8 47.6,7.8" fill="#36c436"/><polygon points="55.0,13.2 56.3,15.5 53.7,15.5" fill="#36c436"/><polygon points="44.7,13.1 46.0,15.4 43.4,15.4" fill="#36c436"/><polygon points="58.2,13.5 59.5,15.8 56.9,15.8" fill="#36c436"/><polygon points="67.1,21.6 68.4,23.9 65.8,23.9" fill="#36c436"/><polygon points="63.6,29.0 64.9,31.3 62.3,31.3" fill="#36c436"/><polygon points="80.7,26.7 82.0,29.0 79.4,29.0" fill="#36c436"/><polygon points="41.7,30.5 43.0,32.8 40.4,32.8" fill="#36c436"/><polygon points="41.5,43.3 42.8,45.6 40.2,45.6" fill="#36c436"/><polygon points="76.2,44.5 77.5,46.8 74.9,46.8" fill="#36c436"/><polygon points="84.3,53.3 85.6,55.6 83.0,55.6" fill="#36c436"/><polygon points="42.6,54.7 43.9,57.0 41.3,57.0" fill="#36c436"/><polygon points="47.5,58.0 48.8,60.3 46.2,60.3" fill="#36c436"/><polygon points="33.2,66.1 34.5,68.4 31.9,68.4" fill="#36c436"/><polygon points="35.3,68.8 36.6,71.1 34.0,71.1" fill="#36c436"/><polygon points="39.3,71.6 40.6,73.9 38.0,73.9" fill="#36c436"/><polygon points="43.1,73.9 44.4,76.2 41.8,76.2" fill="#36c436"/><polygon points="48.5,73.4 49.8,75.7 47.2,75.7" fill="#36c436"/><polygon points="54.6,81.7 55.9,84.0 53.3,84.0" fill="#36c436"/><polygon points="58.6,83.5 59.9,85.8 57.3,85.8" fill="#36c436"/><polygon points="66.2,89.5 67.5,91.8 64.9,91.8" fill="#36c436"/><polygon points="70.3,93.6 71.6,95.9 69.0,95.9" fill="#36c436"/><polygon points="50.2,99.9 51.5,102.2 48.9,102.2" fill="#36c436"/><polygon points="74.1,99.2 75.4,101.5 72.8,101.5" fill="#36c436"/><polygon points="86.8,97.8 88.1,100.1 85.5,100.1" fill="#36c436"/><polygon points="93.6,85.5 94.9,87.8 92.3,87.8" fill="#36c436"/><polygon points="100.0,80.0 101.3,82.3 98.7,82.3" fill="#36c436"/><polygon points="61.8,108.4 63.1,110.7 60.5,110.7" fill="#36c436"/><polygon points="75.4,112.5 76.7,114.8 74.1,114.8" fill="#36c436"/><polygon points="40.2,115.7 41.5,118.0 38.9,118.0" fill="#36c436"/><polygon points="30.3,120.1 31.6,122.4 29.0,122.4" fill="#36c436"/><polygon points="100.7,70.9 102.0,73.2 99.4,73.2" fill="#36c436"/></g></svg><rect x="380.5" y="374.8" width="18.3" height="20.3" fill="#fff"/><text x="389.2" y="389.3" font-size="15.5" text-anchor="middle" fill="#111" stroke="#111" stroke-width="0.3">g</text><svg x="406.8" y="372.4" width="125.1" height="123.1" viewBox="0 0 125 123" preserveAspectRatio="none" overflow="hidden"><g filter="url(#pb)"><rect width="125" height="123" fill="#161616"/><g filter="url(#b5)"><polygon points="0,0 12,0 10,25 0,25" fill="#2c2c2c"/></g><polygon points="43.0,-1.0 70.0,-1.0 70.0,12.0 72.0,23.0 80.0,32.0 82.0,46.0 86.0,56.0 90.0,60.0 80.0,63.0 66.0,64.0 64.0,72.0 66.0,85.0 62.0,100.0 64.0,112.0 66.0,123.5 52.0,123.5 54.0,105.0 55.0,90.0 53.0,75.0 55.0,63.0 46.0,53.0 43.0,40.0 42.0,20.0" fill="#333"/><polygon points="55.0,60.0 88.0,56.0 94.0,60.0 100.0,66.0 104.0,72.0 98.0,80.0 95.0,88.0 100.0,95.0 104.0,100.0 106.0,104.0 100.0,108.0 90.0,106.0 82.0,112.0 76.0,123.5 55.0,123.5 54.0,100.0 53.0,75.0" fill="#333"/><polygon points="76.0,27.0 84.0,22.0 88.0,25.0 82.0,30.0" fill="#333"/><polygon points="53.0,62.0 55.0,75.0 54.0,90.0 54.0,105.0 52.0,123.5 37.0,123.5 39.0,108.0 41.0,92.0 42.0,80.0 44.0,70.0 48.0,66.0" fill="#333"/><polygon points="100.6,70.0 104.0,68.8 107.8,71.0 104.0,74.0" fill="#333"/><g clip-path="url(#cSandH)"><rect x="-40" y="-40" width="205" height="203" filter="url(#nzS)" opacity="0.3" transform="rotate(-35 62 62)"/></g><g clip-path="url(#cSandH)"><rect x="-40" y="-40" width="205" height="203" filter="url(#nz1)" opacity="0.12"/></g><g clip-path="url(#cSandH)"><rect x="-40" y="-40" width="205" height="203" filter="url(#nz2)" opacity="0.35"/></g><g clip-path="url(#cSandH)" opacity="0.6" filter="url(#b05)"><line x1="50" y1="40" x2="78" y2="20" stroke="#161616" stroke-width="1.6"/><line x1="52" y1="55" x2="85" y2="38" stroke="#161616" stroke-width="1.6"/><line x1="60" y1="74" x2="98" y2="62" stroke="#161616" stroke-width="1.6"/><line x1="58" y1="89" x2="100" y2="80" stroke="#161616" stroke-width="1.6"/><line x1="62" y1="100" x2="100" y2="92" stroke="#161616" stroke-width="1.6"/><line x1="60" y1="112" x2="96" y2="104" stroke="#161616" stroke-width="1.6"/><line x1="60" y1="30" x2="72" y2="12" stroke="#161616" stroke-width="1.6"/><line x1="35" y1="95" x2="60" y2="80" stroke="#161616" stroke-width="1.6"/><line x1="30" y1="110" x2="58" y2="100" stroke="#161616" stroke-width="1.6"/></g><polygon points="0.0,17.0 6.0,29.0 12.0,39.0 16.8,47.0 20.4,54.0 22.7,61.0 27.0,62.0 30.0,70.0 30.3,79.0 27.0,90.0 25.5,100.0 26.0,110.0 27.0,123.5 0.0,123.5" fill="#949494"/><g clip-path="url(#cLandB)"><rect x="-40" y="-40" width="205" height="203" filter="url(#nzL)" opacity="0.45"/></g><g clip-path="url(#cLandB)"><rect x="-40" y="-40" width="205" height="203" filter="url(#nzD)" opacity="0.8"/></g><g filter="url(#b05)"><circle cx="16" cy="103.5" r="3.8" fill="#3a3c48" opacity="0.6"/><polygon points="15.12,100.92 17.56,100.64 18.79,102.62 17.70,104.79 17.02,106.36 14.78,105.61 13.28,104.32 14.10,102.41" fill="#f4bc38" stroke="#e0a020" stroke-width="0.5"/></g><rect x="0" y="0" width="125" height="123" fill="none" stroke="#555" stroke-width="0.8"/></g></svg><rect x="510.9" y="374.8" width="18.3" height="20.3" fill="#fff"/><text x="519.6" y="389.3" font-size="15.5" text-anchor="middle" fill="#111" stroke="#111" stroke-width="0.3">h</text>

<g filter="url(#b05)"><polygon points="22,505.3 25.6,504.9 27.4,507.8 25.8,511 24.8,513.3 21.5,512.2 19.3,510.3 20.5,507.5" fill="#eca01c" stroke="#d08810" stroke-width="0.6"/></g>
<g font-size="11.6" fill="#1a1a1a" stroke="#1a1a1a" stroke-width="0.25">
<text x="34.4" y="515.5">Jianggang tide station</text>
<text x="166.7" y="515.5">Edge points (Optical)</text>
<text x="299" y="515.8">Edge points (SAR)</text>
</g>
<circle cx="155" cy="511.9" r="2.7" fill="#3ec83e"/>
<polygon points="286.4,509.4 289.4,514.4 283.4,514.4" fill="#3ec83e"/>
<rect x="422" y="511.6" width="84.2" height="4.6" fill="#fff" stroke="#222" stroke-width="0.8"/>
<rect x="422" y="511.6" width="42.2" height="4.6" fill="#111"/>
<g font-size="9" fill="#222" text-anchor="middle"><text x="422" y="507.8">0</text><text x="464" y="507.8">25</text><text x="506" y="507.8">50</text></g>
<text x="508.5" y="516.5" font-size="10" fill="#222">km</text>

</svg>
</body></html>
